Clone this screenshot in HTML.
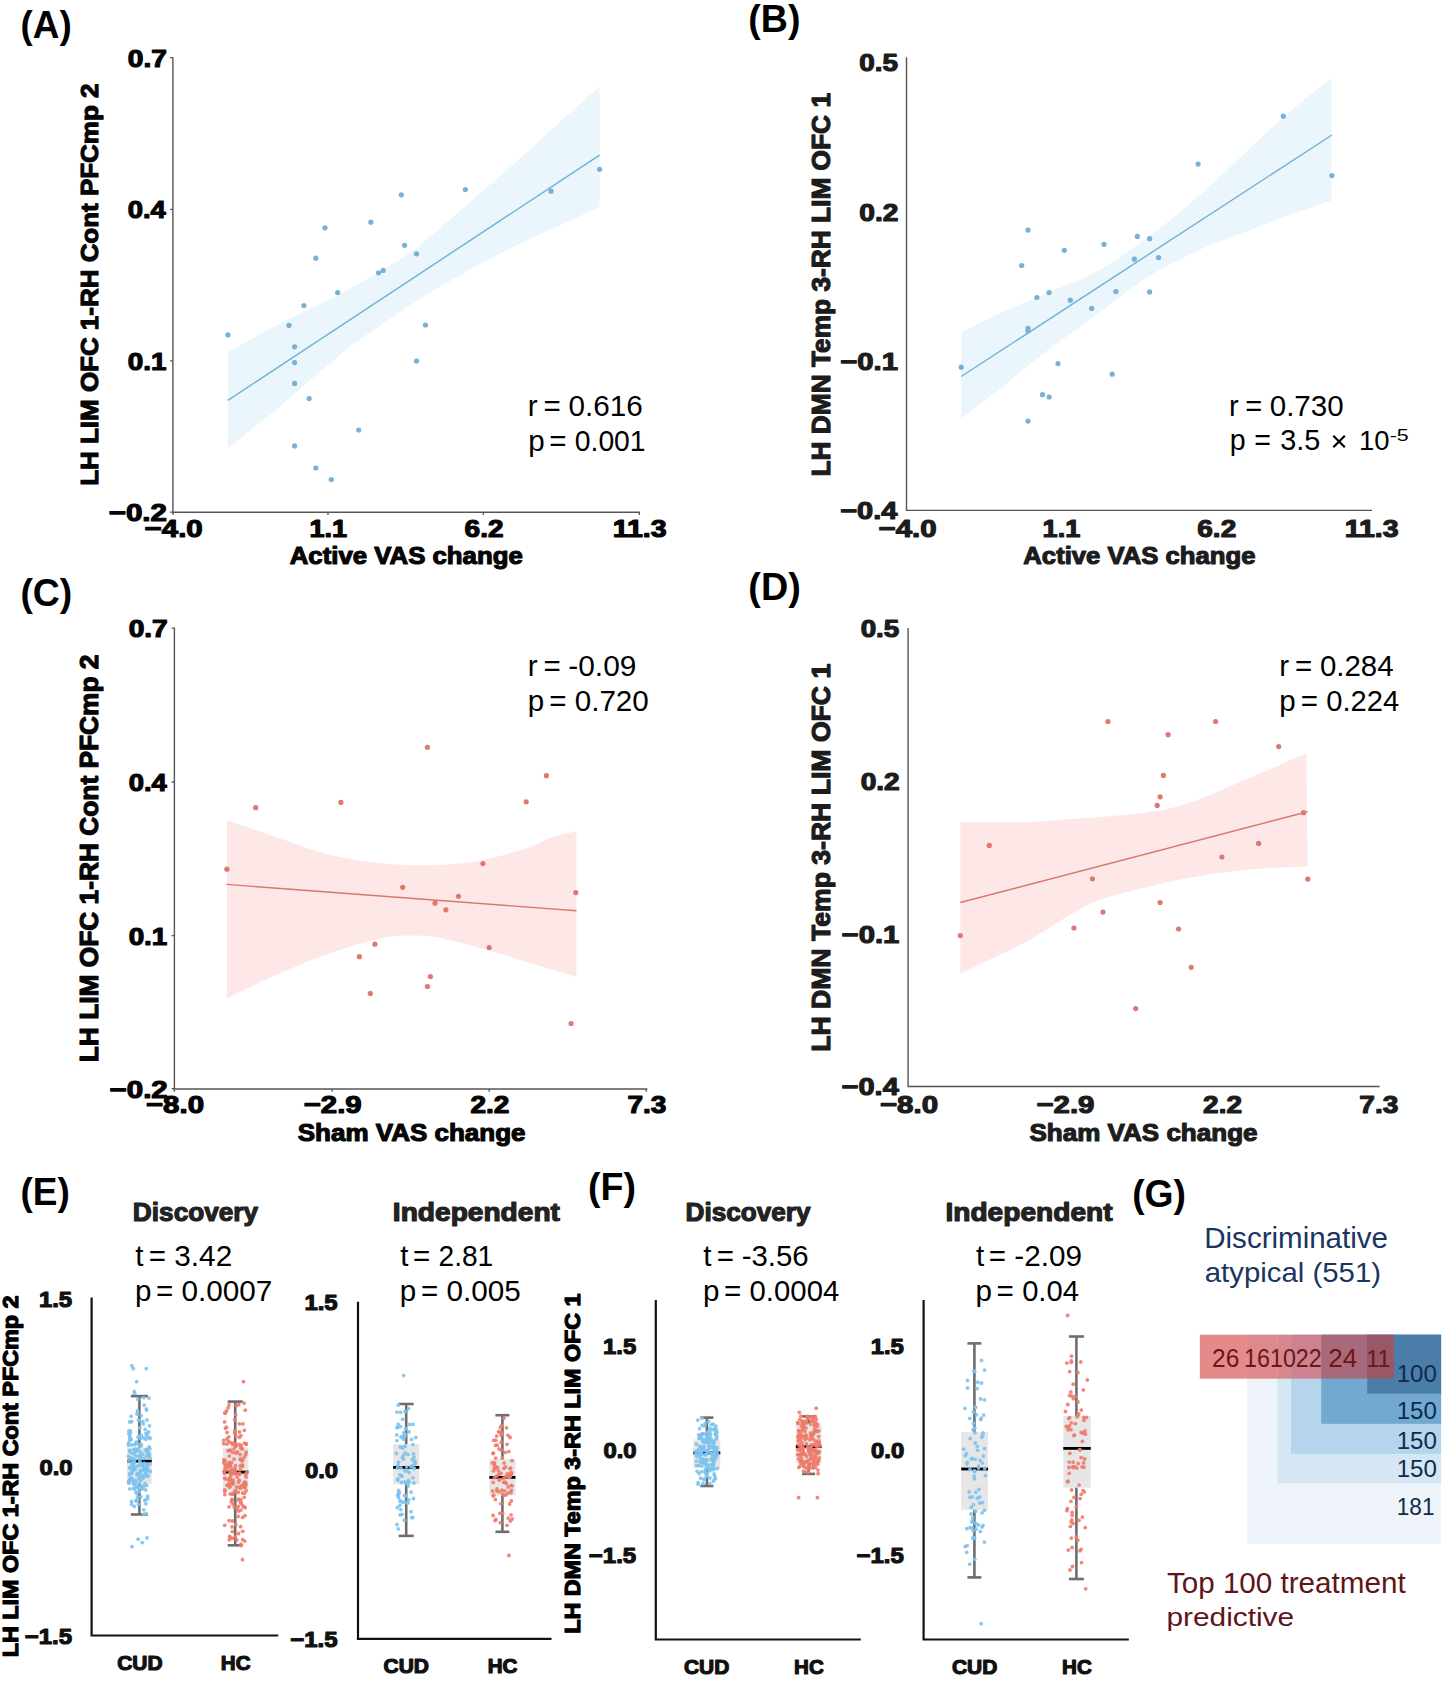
<!DOCTYPE html>
<html><head><meta charset="utf-8"><style>
html,body{margin:0;padding:0;background:#fff;}
svg{display:block;}
text{font-family:"Liberation Sans", sans-serif;}
</style></head><body>
<svg width="1453" height="1681" viewBox="0 0 1453 1681">
<rect width="1453" height="1681" fill="#fff"/>
<text transform="translate(20.46,38.10) scale(0.9536,1)" font-size="38.70" font-weight="bold" fill="#000">(A)</text>
<text transform="translate(748.32,32.40) scale(0.9696,1)" font-size="38.70" font-weight="bold" fill="#000">(B)</text>
<text transform="translate(20.43,606.00) scale(0.9656,1)" font-size="38.70" font-weight="bold" fill="#000">(C)</text>
<text transform="translate(748.31,599.90) scale(0.9942,1)" font-size="37.97" font-weight="bold" fill="#000">(D)</text>
<text transform="translate(20.45,1205.30) scale(0.9563,1)" font-size="38.70" font-weight="bold" fill="#000">(E)</text>
<text transform="translate(588.02,1199.60) scale(0.9594,1)" font-size="39.13" font-weight="bold" fill="#000">(F)</text>
<text transform="translate(1132.13,1207.30) scale(0.9645,1)" font-size="38.70" font-weight="bold" fill="#000">(G)</text>
<path d="M227.9,352.4 C236.4,347.7 259.6,334.2 279.1,324.0 C298.7,313.8 323.2,303.4 345.2,291.3 C367.2,279.2 391.5,265.6 411.3,251.6 C431.1,237.5 447.6,221.1 464.1,207.0 C480.6,192.9 494.4,181.2 510.4,167.0 C526.4,152.8 545.1,135.4 560.0,122.0 C574.9,108.6 593.0,92.3 599.6,86.4 L599.6,207.0 C593.0,210.0 574.9,218.3 560.0,225.2 C545.1,232.1 526.9,240.1 510.4,248.3 C493.9,256.6 477.3,265.3 460.8,274.7 C444.3,284.1 430.6,291.8 411.3,304.5 C392.0,317.2 367.2,333.6 345.2,350.7 C323.2,367.8 298.7,390.6 279.1,406.9 C259.6,423.1 236.4,441.3 227.9,448.2 Z" fill="#eaf5fc"/>
<line x1="227.9" y1="400.3" x2="599.6" y2="155.1" stroke="#6eb1d3" stroke-width="1.4"/>
<circle cx="227.9" cy="334.9" r="2.6" fill="#78b1d6"/>
<circle cx="289.0" cy="325.3" r="2.6" fill="#78b1d6"/>
<circle cx="294.6" cy="346.8" r="2.6" fill="#78b1d6"/>
<circle cx="294.6" cy="362.6" r="2.6" fill="#78b1d6"/>
<circle cx="294.6" cy="383.4" r="2.6" fill="#78b1d6"/>
<circle cx="303.9" cy="305.5" r="2.6" fill="#78b1d6"/>
<circle cx="309.2" cy="398.6" r="2.6" fill="#78b1d6"/>
<circle cx="294.6" cy="445.9" r="2.6" fill="#78b1d6"/>
<circle cx="315.8" cy="258.2" r="2.6" fill="#78b1d6"/>
<circle cx="325.0" cy="227.8" r="2.6" fill="#78b1d6"/>
<circle cx="337.6" cy="292.6" r="2.6" fill="#78b1d6"/>
<circle cx="315.8" cy="468.0" r="2.6" fill="#78b1d6"/>
<circle cx="331.3" cy="479.6" r="2.6" fill="#78b1d6"/>
<circle cx="358.7" cy="430.0" r="2.6" fill="#78b1d6"/>
<circle cx="370.9" cy="222.2" r="2.6" fill="#78b1d6"/>
<circle cx="378.5" cy="272.8" r="2.6" fill="#78b1d6"/>
<circle cx="383.2" cy="270.4" r="2.6" fill="#78b1d6"/>
<circle cx="401.3" cy="194.8" r="2.6" fill="#78b1d6"/>
<circle cx="404.6" cy="245.3" r="2.6" fill="#78b1d6"/>
<circle cx="416.5" cy="253.9" r="2.6" fill="#78b1d6"/>
<circle cx="425.5" cy="325.0" r="2.6" fill="#78b1d6"/>
<circle cx="416.5" cy="361.0" r="2.6" fill="#78b1d6"/>
<circle cx="465.4" cy="189.5" r="2.6" fill="#78b1d6"/>
<circle cx="551.0" cy="191.2" r="2.6" fill="#78b1d6"/>
<circle cx="599.6" cy="169.3" r="2.6" fill="#78b1d6"/>
<path d="M172.9,57.3 L172.9,512.3 L640.0,512.3" fill="none" stroke="#555" stroke-width="1.4"/>
<path d="M170.1,57.7 L172.9,57.7 M170.1,209.3 L172.9,209.3 M170.1,360.9 L172.9,360.9 M170.1,512.1 L172.9,512.1 M173.0,512.3 L173.0,515.1 M328.0,512.3 L328.0,515.1 M483.3,512.3 L483.3,515.1 M639.3,512.3 L639.3,515.1 " stroke="#555" stroke-width="1.3" fill="none"/>
<text transform="translate(127.75,66.72) scale(1.1686,1)" font-size="24.07" font-weight="bold" fill="#050505" stroke="#050505" stroke-width="1.15" stroke-linejoin="round">0.7</text>
<text transform="translate(127.78,218.33) scale(1.1382,1)" font-size="24.07" font-weight="bold" fill="#050505" stroke="#050505" stroke-width="1.15" stroke-linejoin="round">0.4</text>
<text transform="translate(127.76,369.93) scale(1.1554,1)" font-size="24.07" font-weight="bold" fill="#050505" stroke="#050505" stroke-width="1.15" stroke-linejoin="round">0.1</text>
<text transform="translate(108.70,521.12) scale(1.2244,1)" font-size="24.07" font-weight="bold" fill="#050505" stroke="#050505" stroke-width="1.15" stroke-linejoin="round">−0.2</text>
<text transform="translate(144.60,536.83) scale(1.2100,1)" font-size="24.36" font-weight="bold" fill="#050505" stroke="#050505" stroke-width="1.15" stroke-linejoin="round">−4.0</text>
<text transform="translate(309.40,536.83) scale(1.1121,1)" font-size="24.36" font-weight="bold" fill="#050505" stroke="#050505" stroke-width="1.15" stroke-linejoin="round">1.1</text>
<text transform="translate(464.59,536.83) scale(1.1505,1)" font-size="24.36" font-weight="bold" fill="#050505" stroke="#050505" stroke-width="1.15" stroke-linejoin="round">6.2</text>
<text transform="translate(612.72,536.83) scale(1.1699,1)" font-size="24.36" font-weight="bold" fill="#050505" stroke="#050505" stroke-width="1.15" stroke-linejoin="round">11.3</text>
<text transform="translate(289.73,563.62) scale(1.0622,1)" font-size="24.28" font-weight="bold" fill="#050505" stroke="#050505" stroke-width="1.15" stroke-linejoin="round">Active VAS change</text>
<text transform="translate(97.62,485.81) rotate(-90) scale(1.0565,1)" font-size="24.57" font-weight="bold" fill="#050505" stroke="#050505" stroke-width="1.15" stroke-linejoin="round">LH LIM OFC 1-RH Cont PFCmp 2</text>
<text transform="translate(527.68,415.80) scale(1.0000,1)" font-size="29.57" fill="#000">r</text>
<text transform="translate(543.52,415.80) scale(1.0000,1)" font-size="29.57" fill="#000">=</text>
<text transform="translate(568.41,415.80) scale(1.0033,1)" font-size="29.57" fill="#000">0.616</text>
<text transform="translate(528.18,450.50) scale(1.0000,1)" font-size="29.57" fill="#000">p</text>
<text transform="translate(549.32,450.50) scale(1.0000,1)" font-size="29.57" fill="#000">=</text>
<text transform="translate(574.77,450.50) scale(0.9578,1)" font-size="29.57" fill="#000">0.001</text>
<path d="M961.2,332.5 C967.3,329.5 983.3,321.0 997.6,314.4 C1011.9,307.8 1030.6,300.1 1047.1,292.9 C1063.6,285.7 1080.2,280.5 1096.7,271.4 C1113.2,262.3 1129.8,250.5 1146.3,238.4 C1162.8,226.3 1179.3,213.1 1195.8,198.8 C1212.3,184.5 1230.0,166.8 1245.4,152.5 C1260.8,138.2 1274.0,125.3 1288.3,112.9 C1302.6,100.5 1324.1,84.0 1331.3,78.2 L1331.3,200.4 C1324.1,202.9 1302.6,210.1 1288.3,215.3 C1274.0,220.5 1260.8,225.8 1245.4,231.8 C1230.0,237.9 1212.3,243.9 1195.8,251.6 C1179.3,259.3 1162.8,267.5 1146.3,278.0 C1129.8,288.5 1113.2,302.3 1096.7,314.4 C1080.2,326.5 1063.6,338.0 1047.1,350.7 C1030.6,363.4 1011.9,379.1 997.6,390.4 C983.3,401.7 967.3,413.7 961.2,418.4 Z" fill="#eaf5fc"/>
<line x1="961.2" y1="376.5" x2="1331.9" y2="135.0" stroke="#6eb1d3" stroke-width="1.4"/>
<circle cx="961.2" cy="367.2" r="2.6" fill="#78b1d6"/>
<circle cx="1028.0" cy="230.1" r="2.6" fill="#78b1d6"/>
<circle cx="1021.7" cy="265.5" r="2.6" fill="#78b1d6"/>
<circle cx="1028.0" cy="328.3" r="2.6" fill="#78b1d6"/>
<circle cx="1028.0" cy="330.9" r="2.6" fill="#78b1d6"/>
<circle cx="1036.9" cy="297.5" r="2.6" fill="#78b1d6"/>
<circle cx="1049.1" cy="292.6" r="2.6" fill="#78b1d6"/>
<circle cx="1064.3" cy="250.3" r="2.6" fill="#78b1d6"/>
<circle cx="1070.3" cy="300.2" r="2.6" fill="#78b1d6"/>
<circle cx="1091.7" cy="308.4" r="2.6" fill="#78b1d6"/>
<circle cx="1058.0" cy="363.6" r="2.6" fill="#78b1d6"/>
<circle cx="1042.5" cy="394.7" r="2.6" fill="#78b1d6"/>
<circle cx="1049.1" cy="397.0" r="2.6" fill="#78b1d6"/>
<circle cx="1028.0" cy="421.1" r="2.6" fill="#78b1d6"/>
<circle cx="1104.0" cy="244.3" r="2.6" fill="#78b1d6"/>
<circle cx="1112.2" cy="374.2" r="2.6" fill="#78b1d6"/>
<circle cx="1115.9" cy="291.6" r="2.6" fill="#78b1d6"/>
<circle cx="1134.4" cy="259.2" r="2.6" fill="#78b1d6"/>
<circle cx="1137.3" cy="236.4" r="2.6" fill="#78b1d6"/>
<circle cx="1149.6" cy="238.7" r="2.6" fill="#78b1d6"/>
<circle cx="1158.5" cy="257.6" r="2.6" fill="#78b1d6"/>
<circle cx="1149.6" cy="291.9" r="2.6" fill="#78b1d6"/>
<circle cx="1198.1" cy="164.1" r="2.6" fill="#78b1d6"/>
<circle cx="1283.3" cy="116.2" r="2.6" fill="#78b1d6"/>
<circle cx="1331.9" cy="175.6" r="2.6" fill="#78b1d6"/>
<path d="M906.5,57.3 L906.5,510.4 L1372.0,510.4" fill="none" stroke="#555" stroke-width="1.4"/>
<text transform="translate(859.26,71.12) scale(1.1554,1)" font-size="24.07" font-weight="bold" fill="#1c1c1c" stroke="#1c1c1c" stroke-width="1.15" stroke-linejoin="round">0.5</text>
<text transform="translate(859.25,220.83) scale(1.1686,1)" font-size="24.07" font-weight="bold" fill="#1c1c1c" stroke="#1c1c1c" stroke-width="1.15" stroke-linejoin="round">0.2</text>
<text transform="translate(840.21,369.93) scale(1.2148,1)" font-size="24.07" font-weight="bold" fill="#1c1c1c" stroke="#1c1c1c" stroke-width="1.15" stroke-linejoin="round">−0.1</text>
<text transform="translate(840.22,519.02) scale(1.2022,1)" font-size="24.07" font-weight="bold" fill="#1c1c1c" stroke="#1c1c1c" stroke-width="1.15" stroke-linejoin="round">−0.4</text>
<text transform="translate(878.50,536.62) scale(1.2100,1)" font-size="24.36" font-weight="bold" fill="#1c1c1c" stroke="#1c1c1c" stroke-width="1.15" stroke-linejoin="round">−4.0</text>
<text transform="translate(1042.60,536.62) scale(1.1121,1)" font-size="24.36" font-weight="bold" fill="#1c1c1c" stroke="#1c1c1c" stroke-width="1.15" stroke-linejoin="round">1.1</text>
<text transform="translate(1197.29,536.62) scale(1.1505,1)" font-size="24.36" font-weight="bold" fill="#1c1c1c" stroke="#1c1c1c" stroke-width="1.15" stroke-linejoin="round">6.2</text>
<text transform="translate(1344.72,536.62) scale(1.1699,1)" font-size="24.36" font-weight="bold" fill="#1c1c1c" stroke="#1c1c1c" stroke-width="1.15" stroke-linejoin="round">11.3</text>
<text transform="translate(1023.33,563.62) scale(1.0581,1)" font-size="24.28" font-weight="bold" fill="#1c1c1c" stroke="#1c1c1c" stroke-width="1.15" stroke-linejoin="round">Active VAS change</text>
<text transform="translate(829.62,476.53) rotate(-90) scale(1.0576,1)" font-size="24.86" font-weight="bold" fill="#1c1c1c" stroke="#1c1c1c" stroke-width="1.15" stroke-linejoin="round">LH DMN Temp 3-RH LIM OFC 1</text>
<text transform="translate(1229.12,415.60) scale(1.0000,1)" font-size="29.00" fill="#000">r</text>
<text transform="translate(1245.35,415.60) scale(1.0000,1)" font-size="29.00" fill="#000">=</text>
<text transform="translate(1269.72,415.60) scale(1.0181,1)" font-size="29.00" fill="#000">0.730</text>
<text transform="translate(1229.84,450.40) scale(1.0000,1)" font-size="28.57" fill="#000">p</text>
<text transform="translate(1254.37,450.40) scale(1.0000,1)" font-size="28.57" fill="#000">=</text>
<text transform="translate(1280.15,450.40) scale(1.0099,1)" font-size="28.57" fill="#000">3.5</text>
<text transform="translate(1359.04,450.40) scale(0.9625,1)" font-size="28.57" fill="#000">10</text>
<text transform="translate(1389.74,440.70) scale(1.2569,1)" font-size="17.00" fill="#000">-5</text>
<path d="M226.9,820.0 C235.6,823.0 262.1,832.3 279.1,838.1 C296.1,843.9 312.2,850.5 328.7,854.6 C345.2,858.7 361.7,861.1 378.2,862.9 C394.7,864.7 411.3,865.5 427.8,865.2 C444.3,864.9 460.8,864.2 477.3,861.3 C493.8,858.4 514.2,852.1 526.9,848.0 C539.6,843.9 545.0,839.2 553.3,836.5 C561.5,833.8 572.5,832.3 576.4,831.5 L576.4,976.9 C570.9,975.2 557.2,971.1 543.4,967.0 C529.6,962.9 510.3,956.8 493.8,952.1 C477.3,947.4 458.1,941.6 444.3,938.9 C430.6,936.1 422.3,935.6 411.3,935.6 C400.3,935.6 392.0,935.9 378.2,938.9 C364.4,941.9 345.2,947.9 328.7,953.7 C312.2,959.5 296.1,966.2 279.1,973.6 C262.1,981.0 235.6,994.3 226.9,998.4 Z" fill="#fde8e7"/>
<line x1="226.3" y1="884.4" x2="576.4" y2="910.8" stroke="#d9776b" stroke-width="1.4"/>
<circle cx="226.9" cy="869.2" r="2.6" fill="#dc7a70"/>
<circle cx="255.7" cy="807.7" r="2.6" fill="#dc7a70"/>
<circle cx="340.9" cy="802.4" r="2.6" fill="#dc7a70"/>
<circle cx="427.4" cy="747.3" r="2.6" fill="#dc7a70"/>
<circle cx="402.7" cy="887.3" r="2.6" fill="#dc7a70"/>
<circle cx="435.0" cy="903.2" r="2.6" fill="#dc7a70"/>
<circle cx="445.9" cy="909.8" r="2.6" fill="#dc7a70"/>
<circle cx="458.5" cy="896.3" r="2.6" fill="#dc7a70"/>
<circle cx="482.9" cy="863.6" r="2.6" fill="#dc7a70"/>
<circle cx="526.2" cy="801.8" r="2.6" fill="#dc7a70"/>
<circle cx="546.4" cy="775.7" r="2.6" fill="#dc7a70"/>
<circle cx="575.8" cy="892.6" r="2.6" fill="#dc7a70"/>
<circle cx="374.9" cy="944.2" r="2.6" fill="#dc7a70"/>
<circle cx="359.4" cy="956.7" r="2.6" fill="#dc7a70"/>
<circle cx="489.2" cy="947.5" r="2.6" fill="#dc7a70"/>
<circle cx="430.4" cy="976.5" r="2.6" fill="#dc7a70"/>
<circle cx="427.4" cy="986.5" r="2.6" fill="#dc7a70"/>
<circle cx="370.3" cy="993.4" r="2.6" fill="#dc7a70"/>
<circle cx="571.1" cy="1023.5" r="2.6" fill="#dc7a70"/>
<path d="M174.4,627.8 L174.4,1089.0 L647.4,1089.0" fill="none" stroke="#555" stroke-width="1.4"/>
<path d="M171.6,628.1 L174.4,628.1 M171.6,782.0 L174.4,782.0 M171.6,935.6 L174.4,935.6 M171.6,1088.7 L174.4,1088.7 M174.3,1089.0 L174.3,1091.8 M332.1,1089.0 L332.1,1091.8 M489.2,1089.0 L489.2,1091.8 M646.3,1089.0 L646.3,1091.8 " stroke="#555" stroke-width="1.3" fill="none"/>
<text transform="translate(128.65,637.12) scale(1.1686,1)" font-size="24.07" font-weight="bold" fill="#050505" stroke="#050505" stroke-width="1.15" stroke-linejoin="round">0.7</text>
<text transform="translate(128.68,791.02) scale(1.1382,1)" font-size="24.07" font-weight="bold" fill="#050505" stroke="#050505" stroke-width="1.15" stroke-linejoin="round">0.4</text>
<text transform="translate(128.66,944.62) scale(1.1554,1)" font-size="24.07" font-weight="bold" fill="#050505" stroke="#050505" stroke-width="1.15" stroke-linejoin="round">0.1</text>
<text transform="translate(109.60,1097.72) scale(1.2244,1)" font-size="24.07" font-weight="bold" fill="#050505" stroke="#050505" stroke-width="1.15" stroke-linejoin="round">−0.2</text>
<text transform="translate(145.90,1113.22) scale(1.2100,1)" font-size="24.36" font-weight="bold" fill="#050505" stroke="#050505" stroke-width="1.15" stroke-linejoin="round">−8.0</text>
<text transform="translate(303.70,1113.22) scale(1.2068,1)" font-size="24.36" font-weight="bold" fill="#050505" stroke="#050505" stroke-width="1.15" stroke-linejoin="round">−2.9</text>
<text transform="translate(470.49,1113.22) scale(1.1505,1)" font-size="24.36" font-weight="bold" fill="#050505" stroke="#050505" stroke-width="1.15" stroke-linejoin="round">2.2</text>
<text transform="translate(627.45,1113.22) scale(1.1505,1)" font-size="24.36" font-weight="bold" fill="#050505" stroke="#050505" stroke-width="1.15" stroke-linejoin="round">7.3</text>
<text transform="translate(297.69,1141.33) scale(1.0714,1)" font-size="24.28" font-weight="bold" fill="#050505" stroke="#050505" stroke-width="1.15" stroke-linejoin="round">Sham VAS change</text>
<text transform="translate(98.22,1062.24) rotate(-90) scale(1.0291,1)" font-size="25.58" font-weight="bold" fill="#050505" stroke="#050505" stroke-width="1.15" stroke-linejoin="round">LH LIM OFC 1-RH Cont PFCmp 2</text>
<text transform="translate(527.68,676.30) scale(1.0000,1)" font-size="29.57" fill="#000">r</text>
<text transform="translate(543.52,676.30) scale(1.0000,1)" font-size="29.57" fill="#000">=</text>
<text transform="translate(568.25,676.30) scale(1.0114,1)" font-size="29.57" fill="#000">-0.09</text>
<text transform="translate(527.68,711.00) scale(1.0000,1)" font-size="29.57" fill="#000">p</text>
<text transform="translate(549.32,711.00) scale(1.0000,1)" font-size="29.57" fill="#000">=</text>
<text transform="translate(574.72,711.00) scale(1.0012,1)" font-size="29.57" fill="#000">0.720</text>
<path d="M960.3,821.9 C971.3,821.9 1002.7,822.8 1026.4,821.9 C1050.2,821.0 1082.2,818.4 1102.8,816.8 C1123.4,815.1 1137.3,813.8 1150.0,812.0 C1162.7,810.2 1170.0,808.5 1179.2,806.0 C1188.4,803.5 1196.5,800.3 1205.0,797.0 C1213.5,793.7 1219.6,790.7 1230.1,786.2 C1240.6,781.7 1255.3,775.5 1268.0,770.0 C1280.7,764.5 1300.1,755.9 1306.5,753.1 L1307.5,866.4 C1298.8,866.8 1272.8,867.5 1255.6,869.0 C1238.4,870.5 1221.6,872.5 1204.6,875.3 C1187.6,878.0 1170.7,881.5 1153.7,885.5 C1136.7,889.5 1116.8,894.1 1102.8,899.0 C1088.8,903.9 1082.7,907.9 1070.0,915.0 C1057.3,922.1 1044.7,931.9 1026.4,941.6 C1008.1,951.3 971.3,968.1 960.3,973.4 Z" fill="#fde8e7"/>
<line x1="960.3" y1="902.5" x2="1307.5" y2="811.7" stroke="#d9776b" stroke-width="1.4"/>
<circle cx="960.3" cy="935.6" r="2.6" fill="#dc7a70"/>
<circle cx="989.3" cy="845.4" r="2.6" fill="#dc7a70"/>
<circle cx="1107.9" cy="721.5" r="2.6" fill="#dc7a70"/>
<circle cx="1168.1" cy="734.7" r="2.6" fill="#dc7a70"/>
<circle cx="1215.6" cy="721.5" r="2.6" fill="#dc7a70"/>
<circle cx="1278.7" cy="746.6" r="2.6" fill="#dc7a70"/>
<circle cx="1163.4" cy="775.4" r="2.6" fill="#dc7a70"/>
<circle cx="1160.1" cy="796.8" r="2.6" fill="#dc7a70"/>
<circle cx="1157.2" cy="805.4" r="2.6" fill="#dc7a70"/>
<circle cx="1303.5" cy="812.7" r="2.6" fill="#dc7a70"/>
<circle cx="1258.6" cy="843.4" r="2.6" fill="#dc7a70"/>
<circle cx="1221.9" cy="857.0" r="2.6" fill="#dc7a70"/>
<circle cx="1307.8" cy="879.1" r="2.6" fill="#dc7a70"/>
<circle cx="1092.4" cy="878.8" r="2.6" fill="#dc7a70"/>
<circle cx="1160.1" cy="902.5" r="2.6" fill="#dc7a70"/>
<circle cx="1103.0" cy="912.1" r="2.6" fill="#dc7a70"/>
<circle cx="1073.9" cy="928.0" r="2.6" fill="#dc7a70"/>
<circle cx="1178.6" cy="929.0" r="2.6" fill="#dc7a70"/>
<circle cx="1191.2" cy="967.3" r="2.6" fill="#dc7a70"/>
<circle cx="1135.7" cy="1008.6" r="2.6" fill="#dc7a70"/>
<path d="M908.1,628.0 L908.1,1086.5 L1379.6,1086.5" fill="none" stroke="#555" stroke-width="1.4"/>
<text transform="translate(860.66,637.12) scale(1.1554,1)" font-size="24.07" font-weight="bold" fill="#1c1c1c" stroke="#1c1c1c" stroke-width="1.15" stroke-linejoin="round">0.5</text>
<text transform="translate(860.65,790.12) scale(1.1686,1)" font-size="24.07" font-weight="bold" fill="#1c1c1c" stroke="#1c1c1c" stroke-width="1.15" stroke-linejoin="round">0.2</text>
<text transform="translate(841.61,942.82) scale(1.2148,1)" font-size="24.07" font-weight="bold" fill="#1c1c1c" stroke="#1c1c1c" stroke-width="1.15" stroke-linejoin="round">−0.1</text>
<text transform="translate(841.62,1095.33) scale(1.2022,1)" font-size="24.07" font-weight="bold" fill="#1c1c1c" stroke="#1c1c1c" stroke-width="1.15" stroke-linejoin="round">−0.4</text>
<text transform="translate(879.90,1113.03) scale(1.2100,1)" font-size="24.36" font-weight="bold" fill="#1c1c1c" stroke="#1c1c1c" stroke-width="1.15" stroke-linejoin="round">−8.0</text>
<text transform="translate(1036.40,1113.03) scale(1.2068,1)" font-size="24.36" font-weight="bold" fill="#1c1c1c" stroke="#1c1c1c" stroke-width="1.15" stroke-linejoin="round">−2.9</text>
<text transform="translate(1203.09,1113.03) scale(1.1505,1)" font-size="24.36" font-weight="bold" fill="#1c1c1c" stroke="#1c1c1c" stroke-width="1.15" stroke-linejoin="round">2.2</text>
<text transform="translate(1359.35,1113.03) scale(1.1505,1)" font-size="24.36" font-weight="bold" fill="#1c1c1c" stroke="#1c1c1c" stroke-width="1.15" stroke-linejoin="round">7.3</text>
<text transform="translate(1029.49,1141.33) scale(1.0728,1)" font-size="24.28" font-weight="bold" fill="#1c1c1c" stroke="#1c1c1c" stroke-width="1.15" stroke-linejoin="round">Sham VAS change</text>
<text transform="translate(830.12,1051.85) rotate(-90) scale(1.0703,1)" font-size="24.86" font-weight="bold" fill="#1c1c1c" stroke="#1c1c1c" stroke-width="1.15" stroke-linejoin="round">LH DMN Temp 3-RH LIM OFC 1</text>
<text transform="translate(1279.18,676.30) scale(1.0000,1)" font-size="29.57" fill="#000">r</text>
<text transform="translate(1295.02,676.30) scale(1.0000,1)" font-size="29.57" fill="#000">=</text>
<text transform="translate(1319.92,676.30) scale(0.9964,1)" font-size="29.57" fill="#000">0.284</text>
<text transform="translate(1279.18,711.00) scale(1.0000,1)" font-size="29.57" fill="#000">p</text>
<text transform="translate(1300.82,711.00) scale(1.0000,1)" font-size="29.57" fill="#000">=</text>
<text transform="translate(1326.23,711.00) scale(0.9853,1)" font-size="29.57" fill="#000">0.224</text>
<path d="M1333.3,435.7 L1344.8,447.2 M1344.8,435.7 L1333.3,447.2" stroke="#000" stroke-width="2.2"/>
<path d="M91.6,1297.6 L91.6,1635.5 L278.3,1635.5" fill="none" stroke="#111" stroke-width="2.2"/>
<rect x="127.1" y="1447.4" width="24.6" height="36.3" fill="#e6e6e6"/>
<line x1="139.4" y1="1396.1" x2="139.4" y2="1447.4" stroke="#6e6e6e" stroke-width="2.6"/>
<line x1="139.4" y1="1483.7" x2="139.4" y2="1514.5" stroke="#6e6e6e" stroke-width="2.6"/>
<line x1="130.9" y1="1396.1" x2="147.9" y2="1396.1" stroke="#6e6e6e" stroke-width="2.6"/>
<line x1="130.9" y1="1514.5" x2="147.9" y2="1514.5" stroke="#6e6e6e" stroke-width="2.6"/>
<line x1="127.1" y1="1461.1" x2="151.7" y2="1461.1" stroke="#000" stroke-width="2.8"/>
<g fill="#7cc3ee" fill-opacity="0.9"><circle cx="142.7" cy="1454.2" r="1.9"/><circle cx="130.0" cy="1474.9" r="1.9"/><circle cx="129.7" cy="1436.1" r="1.9"/><circle cx="139.6" cy="1455.4" r="1.9"/><circle cx="129.9" cy="1489.0" r="1.9"/><circle cx="130.4" cy="1467.8" r="1.9"/><circle cx="131.1" cy="1416.3" r="1.9"/><circle cx="133.3" cy="1484.1" r="1.9"/><circle cx="141.1" cy="1415.6" r="1.9"/><circle cx="137.1" cy="1414.2" r="1.9"/><circle cx="147.3" cy="1469.3" r="1.9"/><circle cx="134.8" cy="1459.9" r="1.9"/><circle cx="135.2" cy="1469.4" r="1.9"/><circle cx="146.4" cy="1471.7" r="1.9"/><circle cx="142.5" cy="1476.1" r="1.9"/><circle cx="136.6" cy="1493.3" r="1.9"/><circle cx="129.7" cy="1451.8" r="1.9"/><circle cx="132.9" cy="1458.2" r="1.9"/><circle cx="135.3" cy="1449.1" r="1.9"/><circle cx="141.3" cy="1435.4" r="1.9"/><circle cx="145.9" cy="1439.4" r="1.9"/><circle cx="143.8" cy="1467.7" r="1.9"/><circle cx="140.0" cy="1462.4" r="1.9"/><circle cx="147.7" cy="1496.2" r="1.9"/><circle cx="150.0" cy="1458.2" r="1.9"/><circle cx="131.0" cy="1439.1" r="1.9"/><circle cx="131.7" cy="1421.7" r="1.9"/><circle cx="139.2" cy="1483.4" r="1.9"/><circle cx="145.2" cy="1499.8" r="1.9"/><circle cx="141.0" cy="1470.8" r="1.9"/><circle cx="143.7" cy="1477.6" r="1.9"/><circle cx="141.5" cy="1444.7" r="1.9"/><circle cx="146.9" cy="1435.1" r="1.9"/><circle cx="149.2" cy="1446.8" r="1.9"/><circle cx="129.7" cy="1421.9" r="1.9"/><circle cx="143.8" cy="1467.5" r="1.9"/><circle cx="146.5" cy="1410.0" r="1.9"/><circle cx="134.7" cy="1393.4" r="1.9"/><circle cx="128.9" cy="1431.0" r="1.9"/><circle cx="138.6" cy="1487.4" r="1.9"/><circle cx="129.7" cy="1467.7" r="1.9"/><circle cx="145.3" cy="1472.8" r="1.9"/><circle cx="137.0" cy="1475.0" r="1.9"/><circle cx="147.6" cy="1475.8" r="1.9"/><circle cx="140.5" cy="1486.8" r="1.9"/><circle cx="147.8" cy="1475.3" r="1.9"/><circle cx="134.5" cy="1483.7" r="1.9"/><circle cx="137.5" cy="1412.4" r="1.9"/><circle cx="149.5" cy="1425.8" r="1.9"/><circle cx="131.7" cy="1504.4" r="1.9"/><circle cx="133.5" cy="1469.8" r="1.9"/><circle cx="139.1" cy="1478.6" r="1.9"/><circle cx="128.5" cy="1443.3" r="1.9"/><circle cx="137.6" cy="1449.9" r="1.9"/><circle cx="149.4" cy="1437.4" r="1.9"/><circle cx="143.6" cy="1486.5" r="1.9"/><circle cx="143.3" cy="1424.0" r="1.9"/><circle cx="129.6" cy="1457.5" r="1.9"/><circle cx="147.6" cy="1498.9" r="1.9"/><circle cx="146.0" cy="1433.5" r="1.9"/><circle cx="130.7" cy="1439.9" r="1.9"/><circle cx="142.4" cy="1478.1" r="1.9"/><circle cx="133.0" cy="1470.4" r="1.9"/><circle cx="132.0" cy="1464.9" r="1.9"/><circle cx="128.4" cy="1456.4" r="1.9"/><circle cx="131.7" cy="1468.6" r="1.9"/><circle cx="129.0" cy="1481.6" r="1.9"/><circle cx="147.6" cy="1476.3" r="1.9"/><circle cx="133.9" cy="1449.6" r="1.9"/><circle cx="136.0" cy="1451.1" r="1.9"/><circle cx="147.1" cy="1452.1" r="1.9"/><circle cx="150.2" cy="1471.5" r="1.9"/><circle cx="130.3" cy="1430.9" r="1.9"/><circle cx="130.6" cy="1467.7" r="1.9"/><circle cx="146.6" cy="1449.5" r="1.9"/><circle cx="132.0" cy="1478.7" r="1.9"/><circle cx="140.0" cy="1470.6" r="1.9"/><circle cx="129.0" cy="1481.5" r="1.9"/><circle cx="140.0" cy="1487.9" r="1.9"/><circle cx="143.7" cy="1514.3" r="1.9"/><circle cx="134.1" cy="1453.9" r="1.9"/><circle cx="145.4" cy="1450.2" r="1.9"/><circle cx="140.1" cy="1473.2" r="1.9"/><circle cx="133.3" cy="1465.5" r="1.9"/><circle cx="146.3" cy="1437.5" r="1.9"/><circle cx="146.1" cy="1513.5" r="1.9"/><circle cx="146.4" cy="1456.1" r="1.9"/><circle cx="139.8" cy="1459.9" r="1.9"/><circle cx="136.2" cy="1441.9" r="1.9"/><circle cx="134.5" cy="1467.4" r="1.9"/><circle cx="134.1" cy="1462.3" r="1.9"/><circle cx="138.2" cy="1437.3" r="1.9"/><circle cx="149.0" cy="1398.1" r="1.9"/><circle cx="136.4" cy="1456.1" r="1.9"/><circle cx="132.7" cy="1464.7" r="1.9"/><circle cx="132.9" cy="1480.1" r="1.9"/><circle cx="146.9" cy="1420.0" r="1.9"/><circle cx="138.9" cy="1420.5" r="1.9"/><circle cx="130.3" cy="1433.5" r="1.9"/><circle cx="142.9" cy="1421.6" r="1.9"/><circle cx="144.9" cy="1500.7" r="1.9"/><circle cx="138.9" cy="1435.9" r="1.9"/><circle cx="135.7" cy="1481.7" r="1.9"/><circle cx="146.0" cy="1503.8" r="1.9"/><circle cx="137.2" cy="1487.7" r="1.9"/><circle cx="149.2" cy="1456.3" r="1.9"/><circle cx="131.2" cy="1458.5" r="1.9"/><circle cx="131.7" cy="1444.9" r="1.9"/><circle cx="131.6" cy="1501.4" r="1.9"/><circle cx="146.6" cy="1433.7" r="1.9"/><circle cx="136.1" cy="1500.1" r="1.9"/><circle cx="140.5" cy="1456.2" r="1.9"/><circle cx="149.8" cy="1464.2" r="1.9"/><circle cx="142.7" cy="1464.4" r="1.9"/><circle cx="137.9" cy="1399.3" r="1.9"/><circle cx="147.6" cy="1450.7" r="1.9"/><circle cx="133.9" cy="1469.6" r="1.9"/><circle cx="134.8" cy="1444.7" r="1.9"/><circle cx="134.1" cy="1463.2" r="1.9"/><circle cx="137.6" cy="1496.8" r="1.9"/><circle cx="136.2" cy="1501.2" r="1.9"/><circle cx="138.5" cy="1504.4" r="1.9"/><circle cx="137.7" cy="1410.7" r="1.9"/><circle cx="148.6" cy="1432.0" r="1.9"/><circle cx="139.9" cy="1428.0" r="1.9"/><circle cx="128.8" cy="1460.8" r="1.9"/><circle cx="128.5" cy="1445.2" r="1.9"/><circle cx="146.0" cy="1467.4" r="1.9"/><circle cx="144.4" cy="1475.4" r="1.9"/><circle cx="140.6" cy="1488.0" r="1.9"/><circle cx="140.6" cy="1446.2" r="1.9"/><circle cx="145.7" cy="1490.0" r="1.9"/><circle cx="133.9" cy="1488.2" r="1.9"/><circle cx="134.5" cy="1482.4" r="1.9"/><circle cx="140.8" cy="1465.6" r="1.9"/><circle cx="145.1" cy="1429.4" r="1.9"/><circle cx="141.9" cy="1485.9" r="1.9"/><circle cx="139.5" cy="1445.9" r="1.9"/><circle cx="138.4" cy="1419.9" r="1.9"/><circle cx="140.1" cy="1457.9" r="1.9"/><circle cx="143.8" cy="1397.6" r="1.9"/><circle cx="147.7" cy="1469.9" r="1.9"/><circle cx="140.7" cy="1480.6" r="1.9"/><circle cx="149.2" cy="1453.7" r="1.9"/><circle cx="131.1" cy="1468.9" r="1.9"/><circle cx="138.1" cy="1448.8" r="1.9"/><circle cx="130.0" cy="1479.0" r="1.9"/><circle cx="143.1" cy="1469.9" r="1.9"/><circle cx="131.8" cy="1473.2" r="1.9"/><circle cx="144.2" cy="1405.1" r="1.9"/><circle cx="147.8" cy="1453.1" r="1.9"/><circle cx="149.7" cy="1448.5" r="1.9"/><circle cx="137.2" cy="1473.7" r="1.9"/><circle cx="146.7" cy="1467.6" r="1.9"/><circle cx="139.7" cy="1476.2" r="1.9"/><circle cx="135.9" cy="1485.4" r="1.9"/><circle cx="144.3" cy="1469.0" r="1.9"/><circle cx="128.8" cy="1483.3" r="1.9"/><circle cx="128.8" cy="1433.8" r="1.9"/><circle cx="135.7" cy="1451.4" r="1.9"/><circle cx="129.8" cy="1438.2" r="1.9"/><circle cx="150.1" cy="1438.5" r="1.9"/><circle cx="130.7" cy="1478.2" r="1.9"/><circle cx="134.2" cy="1391.4" r="1.9"/><circle cx="134.3" cy="1506.4" r="1.9"/><circle cx="131.3" cy="1472.6" r="1.9"/><circle cx="146.4" cy="1408.8" r="1.9"/><circle cx="134.1" cy="1488.9" r="1.9"/><circle cx="141.0" cy="1496.7" r="1.9"/><circle cx="143.8" cy="1509.8" r="1.9"/><circle cx="143.5" cy="1468.9" r="1.9"/><circle cx="137.8" cy="1466.0" r="1.9"/><circle cx="142.4" cy="1489.0" r="1.9"/><circle cx="147.2" cy="1464.7" r="1.9"/><circle cx="129.9" cy="1450.4" r="1.9"/><circle cx="135.9" cy="1480.3" r="1.9"/><circle cx="140.6" cy="1438.6" r="1.9"/><circle cx="131.2" cy="1480.1" r="1.9"/><circle cx="140.0" cy="1451.7" r="1.9"/><circle cx="132.0" cy="1462.0" r="1.9"/><circle cx="129.5" cy="1474.0" r="1.9"/><circle cx="135.1" cy="1468.0" r="1.9"/><circle cx="145.1" cy="1483.3" r="1.9"/><circle cx="132.3" cy="1453.2" r="1.9"/><circle cx="136.0" cy="1491.8" r="1.9"/><circle cx="128.7" cy="1481.4" r="1.9"/><circle cx="144.5" cy="1463.4" r="1.9"/><circle cx="138.8" cy="1444.6" r="1.9"/><circle cx="149.0" cy="1455.6" r="1.9"/><circle cx="137.9" cy="1500.1" r="1.9"/><circle cx="139.3" cy="1491.9" r="1.9"/><circle cx="139.5" cy="1474.7" r="1.9"/><circle cx="143.5" cy="1437.9" r="1.9"/><circle cx="146.7" cy="1485.6" r="1.9"/><circle cx="143.9" cy="1458.4" r="1.9"/><circle cx="136.0" cy="1443.1" r="1.9"/><circle cx="129.6" cy="1440.4" r="1.9"/><circle cx="144.7" cy="1468.2" r="1.9"/><circle cx="134.0" cy="1468.6" r="1.9"/><circle cx="146.9" cy="1467.0" r="1.9"/><circle cx="131.9" cy="1366.0" r="1.9"/><circle cx="133.3" cy="1368.7" r="1.9"/><circle cx="146.3" cy="1368.7" r="1.9"/><circle cx="136.7" cy="1381.7" r="1.9"/><circle cx="138.1" cy="1539.2" r="1.9"/><circle cx="142.2" cy="1542.6" r="1.9"/><circle cx="147.0" cy="1537.8" r="1.9"/><circle cx="131.9" cy="1546.7" r="1.9"/></g>
<rect x="223.1" y="1447.4" width="25.3" height="44.4" fill="#e6e6e6"/>
<line x1="235.2" y1="1401.6" x2="235.2" y2="1447.4" stroke="#6e6e6e" stroke-width="2.6"/>
<line x1="235.2" y1="1491.8" x2="235.2" y2="1545.3" stroke="#6e6e6e" stroke-width="2.6"/>
<line x1="227.7" y1="1401.6" x2="242.7" y2="1401.6" stroke="#6e6e6e" stroke-width="2.6"/>
<line x1="227.7" y1="1545.3" x2="242.7" y2="1545.3" stroke="#6e6e6e" stroke-width="2.6"/>
<line x1="223.1" y1="1472.1" x2="248.4" y2="1472.1" stroke="#000" stroke-width="2.8"/>
<g fill="#ef7a69" fill-opacity="0.9"><circle cx="243.7" cy="1486.9" r="1.9"/><circle cx="229.3" cy="1456.1" r="1.9"/><circle cx="230.4" cy="1442.7" r="1.9"/><circle cx="234.0" cy="1448.8" r="1.9"/><circle cx="229.8" cy="1478.2" r="1.9"/><circle cx="236.3" cy="1445.9" r="1.9"/><circle cx="230.8" cy="1475.8" r="1.9"/><circle cx="232.5" cy="1470.9" r="1.9"/><circle cx="234.6" cy="1473.6" r="1.9"/><circle cx="235.3" cy="1444.6" r="1.9"/><circle cx="223.8" cy="1471.6" r="1.9"/><circle cx="232.9" cy="1470.5" r="1.9"/><circle cx="224.7" cy="1489.9" r="1.9"/><circle cx="229.1" cy="1506.8" r="1.9"/><circle cx="237.2" cy="1477.0" r="1.9"/><circle cx="238.8" cy="1404.7" r="1.9"/><circle cx="240.2" cy="1459.6" r="1.9"/><circle cx="231.2" cy="1501.7" r="1.9"/><circle cx="246.3" cy="1444.0" r="1.9"/><circle cx="238.5" cy="1511.1" r="1.9"/><circle cx="224.7" cy="1525.3" r="1.9"/><circle cx="238.1" cy="1516.4" r="1.9"/><circle cx="226.9" cy="1464.5" r="1.9"/><circle cx="242.9" cy="1423.9" r="1.9"/><circle cx="242.2" cy="1464.9" r="1.9"/><circle cx="244.2" cy="1497.3" r="1.9"/><circle cx="239.4" cy="1423.8" r="1.9"/><circle cx="224.4" cy="1461.7" r="1.9"/><circle cx="226.8" cy="1444.2" r="1.9"/><circle cx="242.9" cy="1459.7" r="1.9"/><circle cx="236.5" cy="1487.0" r="1.9"/><circle cx="239.4" cy="1432.0" r="1.9"/><circle cx="235.0" cy="1430.6" r="1.9"/><circle cx="240.9" cy="1545.6" r="1.9"/><circle cx="235.3" cy="1473.6" r="1.9"/><circle cx="225.2" cy="1413.2" r="1.9"/><circle cx="240.6" cy="1458.9" r="1.9"/><circle cx="229.8" cy="1471.9" r="1.9"/><circle cx="240.5" cy="1488.3" r="1.9"/><circle cx="246.1" cy="1490.8" r="1.9"/><circle cx="235.1" cy="1536.9" r="1.9"/><circle cx="239.4" cy="1437.4" r="1.9"/><circle cx="241.3" cy="1503.7" r="1.9"/><circle cx="225.5" cy="1428.3" r="1.9"/><circle cx="227.1" cy="1432.5" r="1.9"/><circle cx="230.7" cy="1470.4" r="1.9"/><circle cx="236.8" cy="1539.9" r="1.9"/><circle cx="229.9" cy="1486.6" r="1.9"/><circle cx="239.2" cy="1473.2" r="1.9"/><circle cx="230.4" cy="1450.2" r="1.9"/><circle cx="235.6" cy="1414.4" r="1.9"/><circle cx="226.4" cy="1427.2" r="1.9"/><circle cx="244.3" cy="1482.2" r="1.9"/><circle cx="245.2" cy="1507.7" r="1.9"/><circle cx="242.6" cy="1517.4" r="1.9"/><circle cx="246.0" cy="1477.1" r="1.9"/><circle cx="228.5" cy="1441.2" r="1.9"/><circle cx="245.4" cy="1482.3" r="1.9"/><circle cx="227.0" cy="1485.4" r="1.9"/><circle cx="235.8" cy="1524.7" r="1.9"/><circle cx="242.6" cy="1493.1" r="1.9"/><circle cx="235.4" cy="1465.7" r="1.9"/><circle cx="229.0" cy="1520.7" r="1.9"/><circle cx="244.3" cy="1430.3" r="1.9"/><circle cx="223.8" cy="1462.9" r="1.9"/><circle cx="235.0" cy="1472.9" r="1.9"/><circle cx="226.9" cy="1438.9" r="1.9"/><circle cx="231.6" cy="1482.7" r="1.9"/><circle cx="223.7" cy="1440.3" r="1.9"/><circle cx="241.0" cy="1544.1" r="1.9"/><circle cx="245.0" cy="1483.1" r="1.9"/><circle cx="240.1" cy="1454.5" r="1.9"/><circle cx="232.3" cy="1499.8" r="1.9"/><circle cx="232.7" cy="1452.4" r="1.9"/><circle cx="232.0" cy="1526.9" r="1.9"/><circle cx="233.5" cy="1471.7" r="1.9"/><circle cx="226.0" cy="1470.1" r="1.9"/><circle cx="242.9" cy="1484.9" r="1.9"/><circle cx="229.4" cy="1450.7" r="1.9"/><circle cx="228.1" cy="1467.2" r="1.9"/><circle cx="232.3" cy="1521.0" r="1.9"/><circle cx="242.4" cy="1448.9" r="1.9"/><circle cx="245.3" cy="1410.2" r="1.9"/><circle cx="236.3" cy="1405.5" r="1.9"/><circle cx="240.5" cy="1469.6" r="1.9"/><circle cx="234.1" cy="1459.2" r="1.9"/><circle cx="230.3" cy="1473.1" r="1.9"/><circle cx="224.8" cy="1413.0" r="1.9"/><circle cx="234.6" cy="1491.3" r="1.9"/><circle cx="231.6" cy="1462.6" r="1.9"/><circle cx="246.2" cy="1452.2" r="1.9"/><circle cx="229.7" cy="1536.5" r="1.9"/><circle cx="236.5" cy="1452.7" r="1.9"/><circle cx="232.8" cy="1443.2" r="1.9"/><circle cx="228.5" cy="1484.2" r="1.9"/><circle cx="244.5" cy="1493.3" r="1.9"/><circle cx="244.5" cy="1443.1" r="1.9"/><circle cx="246.6" cy="1472.6" r="1.9"/><circle cx="228.1" cy="1450.7" r="1.9"/><circle cx="225.8" cy="1479.1" r="1.9"/><circle cx="229.2" cy="1462.3" r="1.9"/><circle cx="229.6" cy="1487.2" r="1.9"/><circle cx="240.9" cy="1435.7" r="1.9"/><circle cx="235.8" cy="1435.8" r="1.9"/><circle cx="232.4" cy="1494.2" r="1.9"/><circle cx="230.1" cy="1464.4" r="1.9"/><circle cx="246.0" cy="1484.6" r="1.9"/><circle cx="238.2" cy="1506.3" r="1.9"/><circle cx="243.5" cy="1506.7" r="1.9"/><circle cx="229.4" cy="1479.0" r="1.9"/><circle cx="232.9" cy="1504.0" r="1.9"/><circle cx="243.2" cy="1506.1" r="1.9"/><circle cx="224.4" cy="1478.1" r="1.9"/><circle cx="240.0" cy="1465.9" r="1.9"/><circle cx="237.2" cy="1509.0" r="1.9"/><circle cx="223.7" cy="1443.7" r="1.9"/><circle cx="242.7" cy="1531.3" r="1.9"/><circle cx="229.4" cy="1539.8" r="1.9"/><circle cx="235.7" cy="1490.5" r="1.9"/><circle cx="239.4" cy="1487.2" r="1.9"/><circle cx="238.6" cy="1533.5" r="1.9"/><circle cx="241.3" cy="1448.5" r="1.9"/><circle cx="224.6" cy="1421.9" r="1.9"/><circle cx="241.7" cy="1485.9" r="1.9"/><circle cx="238.5" cy="1482.2" r="1.9"/><circle cx="229.5" cy="1465.0" r="1.9"/><circle cx="238.3" cy="1492.4" r="1.9"/><circle cx="225.3" cy="1465.7" r="1.9"/><circle cx="235.8" cy="1453.1" r="1.9"/><circle cx="228.8" cy="1436.8" r="1.9"/><circle cx="237.5" cy="1451.8" r="1.9"/><circle cx="234.3" cy="1506.9" r="1.9"/><circle cx="245.8" cy="1474.4" r="1.9"/><circle cx="234.6" cy="1419.6" r="1.9"/><circle cx="229.1" cy="1404.8" r="1.9"/><circle cx="239.9" cy="1474.0" r="1.9"/><circle cx="235.2" cy="1469.1" r="1.9"/><circle cx="239.2" cy="1480.2" r="1.9"/><circle cx="239.0" cy="1444.3" r="1.9"/><circle cx="245.0" cy="1487.4" r="1.9"/><circle cx="231.5" cy="1473.7" r="1.9"/><circle cx="233.4" cy="1482.8" r="1.9"/><circle cx="242.0" cy="1460.9" r="1.9"/><circle cx="240.7" cy="1447.2" r="1.9"/><circle cx="246.0" cy="1444.2" r="1.9"/><circle cx="230.9" cy="1471.2" r="1.9"/><circle cx="228.8" cy="1484.8" r="1.9"/><circle cx="241.2" cy="1445.2" r="1.9"/><circle cx="235.1" cy="1443.9" r="1.9"/><circle cx="233.3" cy="1483.3" r="1.9"/><circle cx="239.0" cy="1499.1" r="1.9"/><circle cx="232.7" cy="1494.0" r="1.9"/><circle cx="228.6" cy="1464.8" r="1.9"/><circle cx="224.9" cy="1494.5" r="1.9"/><circle cx="225.1" cy="1468.4" r="1.9"/><circle cx="244.0" cy="1403.2" r="1.9"/><circle cx="240.6" cy="1526.7" r="1.9"/><circle cx="231.3" cy="1470.6" r="1.9"/><circle cx="240.9" cy="1510.1" r="1.9"/><circle cx="232.4" cy="1531.6" r="1.9"/><circle cx="232.3" cy="1484.2" r="1.9"/><circle cx="223.8" cy="1459.8" r="1.9"/><circle cx="230.1" cy="1493.9" r="1.9"/><circle cx="226.5" cy="1411.0" r="1.9"/><circle cx="231.9" cy="1499.4" r="1.9"/><circle cx="242.6" cy="1465.9" r="1.9"/><circle cx="224.8" cy="1491.2" r="1.9"/><circle cx="234.6" cy="1432.7" r="1.9"/><circle cx="228.1" cy="1407.8" r="1.9"/><circle cx="232.1" cy="1538.3" r="1.9"/><circle cx="233.1" cy="1480.2" r="1.9"/><circle cx="242.4" cy="1466.0" r="1.9"/><circle cx="224.5" cy="1473.3" r="1.9"/><circle cx="225.1" cy="1460.3" r="1.9"/><circle cx="240.9" cy="1499.9" r="1.9"/><circle cx="244.4" cy="1456.8" r="1.9"/><circle cx="245.7" cy="1454.7" r="1.9"/><circle cx="237.9" cy="1499.9" r="1.9"/><circle cx="231.0" cy="1467.1" r="1.9"/><circle cx="230.0" cy="1537.2" r="1.9"/><circle cx="244.8" cy="1541.1" r="1.9"/><circle cx="238.3" cy="1473.7" r="1.9"/><circle cx="229.1" cy="1480.6" r="1.9"/><circle cx="234.6" cy="1468.9" r="1.9"/><circle cx="232.6" cy="1444.7" r="1.9"/><circle cx="235.0" cy="1471.8" r="1.9"/><circle cx="245.0" cy="1515.7" r="1.9"/><circle cx="240.7" cy="1502.4" r="1.9"/><circle cx="242.6" cy="1539.7" r="1.9"/><circle cx="231.2" cy="1480.1" r="1.9"/><circle cx="243.5" cy="1381.7" r="1.9"/><circle cx="242.5" cy="1559.7" r="1.9"/></g>
<path d="M358.0,1301.8 L358.0,1638.8 L551.5,1638.8" fill="none" stroke="#111" stroke-width="2.2"/>
<rect x="393.1" y="1444.3" width="26.2" height="40.0" fill="#e6e6e6"/>
<line x1="406.2" y1="1404.0" x2="406.2" y2="1444.3" stroke="#6e6e6e" stroke-width="2.6"/>
<line x1="406.2" y1="1484.3" x2="406.2" y2="1535.9" stroke="#6e6e6e" stroke-width="2.6"/>
<line x1="398.7" y1="1404.0" x2="413.7" y2="1404.0" stroke="#6e6e6e" stroke-width="2.6"/>
<line x1="398.7" y1="1535.9" x2="413.7" y2="1535.9" stroke="#6e6e6e" stroke-width="2.6"/>
<line x1="393.1" y1="1467.4" x2="419.3" y2="1467.4" stroke="#000" stroke-width="2.8"/>
<g fill="#7cc3ee" fill-opacity="0.9"><circle cx="402.6" cy="1419.3" r="1.9"/><circle cx="397.8" cy="1427.3" r="1.9"/><circle cx="400.1" cy="1514.8" r="1.9"/><circle cx="397.5" cy="1467.9" r="1.9"/><circle cx="396.9" cy="1440.6" r="1.9"/><circle cx="415.8" cy="1437.5" r="1.9"/><circle cx="413.9" cy="1457.2" r="1.9"/><circle cx="397.9" cy="1495.2" r="1.9"/><circle cx="398.1" cy="1465.3" r="1.9"/><circle cx="405.1" cy="1411.5" r="1.9"/><circle cx="400.9" cy="1467.9" r="1.9"/><circle cx="409.7" cy="1424.5" r="1.9"/><circle cx="411.2" cy="1492.1" r="1.9"/><circle cx="398.6" cy="1497.5" r="1.9"/><circle cx="413.0" cy="1424.3" r="1.9"/><circle cx="403.7" cy="1454.9" r="1.9"/><circle cx="411.0" cy="1511.7" r="1.9"/><circle cx="401.1" cy="1475.8" r="1.9"/><circle cx="399.3" cy="1492.9" r="1.9"/><circle cx="402.7" cy="1502.3" r="1.9"/><circle cx="404.1" cy="1436.3" r="1.9"/><circle cx="400.8" cy="1509.7" r="1.9"/><circle cx="412.4" cy="1465.4" r="1.9"/><circle cx="398.2" cy="1405.1" r="1.9"/><circle cx="413.0" cy="1477.8" r="1.9"/><circle cx="402.1" cy="1476.2" r="1.9"/><circle cx="398.6" cy="1462.2" r="1.9"/><circle cx="407.9" cy="1502.8" r="1.9"/><circle cx="413.5" cy="1498.5" r="1.9"/><circle cx="405.2" cy="1452.8" r="1.9"/><circle cx="415.1" cy="1463.5" r="1.9"/><circle cx="398.3" cy="1528.9" r="1.9"/><circle cx="400.6" cy="1426.7" r="1.9"/><circle cx="403.6" cy="1439.3" r="1.9"/><circle cx="401.3" cy="1482.5" r="1.9"/><circle cx="408.2" cy="1486.0" r="1.9"/><circle cx="396.4" cy="1453.5" r="1.9"/><circle cx="402.7" cy="1447.9" r="1.9"/><circle cx="402.4" cy="1457.5" r="1.9"/><circle cx="400.3" cy="1446.9" r="1.9"/><circle cx="397.5" cy="1480.0" r="1.9"/><circle cx="398.2" cy="1424.4" r="1.9"/><circle cx="409.0" cy="1431.8" r="1.9"/><circle cx="398.0" cy="1494.9" r="1.9"/><circle cx="404.4" cy="1495.7" r="1.9"/><circle cx="401.9" cy="1514.4" r="1.9"/><circle cx="402.4" cy="1436.3" r="1.9"/><circle cx="404.5" cy="1436.9" r="1.9"/><circle cx="413.5" cy="1453.8" r="1.9"/><circle cx="400.1" cy="1501.2" r="1.9"/><circle cx="410.8" cy="1466.7" r="1.9"/><circle cx="414.2" cy="1468.5" r="1.9"/><circle cx="404.7" cy="1471.1" r="1.9"/><circle cx="413.9" cy="1482.9" r="1.9"/><circle cx="405.4" cy="1434.6" r="1.9"/><circle cx="407.2" cy="1470.6" r="1.9"/><circle cx="409.0" cy="1472.6" r="1.9"/><circle cx="408.6" cy="1480.4" r="1.9"/><circle cx="403.6" cy="1459.2" r="1.9"/><circle cx="401.9" cy="1447.4" r="1.9"/><circle cx="406.6" cy="1466.8" r="1.9"/><circle cx="406.0" cy="1482.6" r="1.9"/><circle cx="412.3" cy="1459.7" r="1.9"/><circle cx="398.7" cy="1490.5" r="1.9"/><circle cx="415.1" cy="1462.5" r="1.9"/><circle cx="397.3" cy="1507.7" r="1.9"/><circle cx="414.7" cy="1461.2" r="1.9"/><circle cx="408.6" cy="1408.7" r="1.9"/><circle cx="412.7" cy="1517.3" r="1.9"/><circle cx="400.6" cy="1500.8" r="1.9"/><circle cx="404.3" cy="1520.2" r="1.9"/><circle cx="399.9" cy="1505.4" r="1.9"/><circle cx="400.6" cy="1412.4" r="1.9"/><circle cx="403.9" cy="1432.7" r="1.9"/><circle cx="398.7" cy="1492.7" r="1.9"/><circle cx="414.1" cy="1468.5" r="1.9"/><circle cx="397.0" cy="1524.5" r="1.9"/><circle cx="397.0" cy="1412.1" r="1.9"/><circle cx="413.0" cy="1444.6" r="1.9"/><circle cx="407.2" cy="1502.9" r="1.9"/><circle cx="408.7" cy="1499.8" r="1.9"/><circle cx="407.9" cy="1454.6" r="1.9"/><circle cx="404.7" cy="1502.2" r="1.9"/><circle cx="405.0" cy="1446.4" r="1.9"/><circle cx="396.7" cy="1434.9" r="1.9"/><circle cx="400.9" cy="1437.1" r="1.9"/><circle cx="411.5" cy="1439.4" r="1.9"/><circle cx="399.8" cy="1474.8" r="1.9"/><circle cx="405.7" cy="1428.7" r="1.9"/><circle cx="404.8" cy="1482.0" r="1.9"/><circle cx="398.0" cy="1479.0" r="1.9"/><circle cx="397.0" cy="1427.7" r="1.9"/><circle cx="408.9" cy="1482.5" r="1.9"/><circle cx="411.8" cy="1517.7" r="1.9"/><circle cx="406.4" cy="1496.0" r="1.9"/><circle cx="403.7" cy="1375.6" r="1.9"/></g>
<rect x="489.3" y="1459.3" width="26.2" height="36.2" fill="#e6e6e6"/>
<line x1="502.4" y1="1415.2" x2="502.4" y2="1459.3" stroke="#6e6e6e" stroke-width="2.6"/>
<line x1="502.4" y1="1495.5" x2="502.4" y2="1531.8" stroke="#6e6e6e" stroke-width="2.6"/>
<line x1="495.4" y1="1415.2" x2="509.4" y2="1415.2" stroke="#6e6e6e" stroke-width="2.6"/>
<line x1="495.4" y1="1531.8" x2="509.4" y2="1531.8" stroke="#6e6e6e" stroke-width="2.6"/>
<line x1="489.3" y1="1477.4" x2="515.5" y2="1477.4" stroke="#000" stroke-width="2.8"/>
<g fill="#ef7a69" fill-opacity="0.9"><circle cx="500.0" cy="1513.3" r="1.9"/><circle cx="511.4" cy="1490.1" r="1.9"/><circle cx="512.3" cy="1519.0" r="1.9"/><circle cx="507.0" cy="1525.3" r="1.9"/><circle cx="512.0" cy="1485.8" r="1.9"/><circle cx="502.2" cy="1458.0" r="1.9"/><circle cx="495.7" cy="1458.1" r="1.9"/><circle cx="493.7" cy="1495.2" r="1.9"/><circle cx="495.6" cy="1445.4" r="1.9"/><circle cx="510.3" cy="1521.0" r="1.9"/><circle cx="495.3" cy="1468.1" r="1.9"/><circle cx="496.6" cy="1476.4" r="1.9"/><circle cx="498.8" cy="1474.3" r="1.9"/><circle cx="493.1" cy="1515.5" r="1.9"/><circle cx="511.1" cy="1485.3" r="1.9"/><circle cx="506.0" cy="1494.8" r="1.9"/><circle cx="508.1" cy="1492.9" r="1.9"/><circle cx="494.7" cy="1465.4" r="1.9"/><circle cx="499.6" cy="1432.5" r="1.9"/><circle cx="509.9" cy="1468.6" r="1.9"/><circle cx="510.1" cy="1437.5" r="1.9"/><circle cx="494.5" cy="1463.0" r="1.9"/><circle cx="500.3" cy="1522.7" r="1.9"/><circle cx="508.4" cy="1475.4" r="1.9"/><circle cx="503.9" cy="1468.3" r="1.9"/><circle cx="501.2" cy="1442.4" r="1.9"/><circle cx="495.9" cy="1519.5" r="1.9"/><circle cx="508.8" cy="1477.0" r="1.9"/><circle cx="497.5" cy="1467.3" r="1.9"/><circle cx="504.1" cy="1418.0" r="1.9"/><circle cx="492.4" cy="1463.0" r="1.9"/><circle cx="493.1" cy="1453.5" r="1.9"/><circle cx="501.0" cy="1503.7" r="1.9"/><circle cx="502.7" cy="1513.3" r="1.9"/><circle cx="496.9" cy="1491.0" r="1.9"/><circle cx="505.5" cy="1467.0" r="1.9"/><circle cx="499.5" cy="1479.7" r="1.9"/><circle cx="494.5" cy="1477.7" r="1.9"/><circle cx="504.1" cy="1463.1" r="1.9"/><circle cx="504.2" cy="1495.3" r="1.9"/><circle cx="501.9" cy="1490.2" r="1.9"/><circle cx="495.1" cy="1520.6" r="1.9"/><circle cx="495.4" cy="1499.6" r="1.9"/><circle cx="494.3" cy="1468.1" r="1.9"/><circle cx="508.0" cy="1435.3" r="1.9"/><circle cx="500.4" cy="1427.7" r="1.9"/><circle cx="505.3" cy="1477.0" r="1.9"/><circle cx="503.6" cy="1482.3" r="1.9"/><circle cx="501.3" cy="1450.1" r="1.9"/><circle cx="511.1" cy="1514.8" r="1.9"/><circle cx="510.5" cy="1474.9" r="1.9"/><circle cx="493.3" cy="1453.2" r="1.9"/><circle cx="497.2" cy="1445.2" r="1.9"/><circle cx="493.6" cy="1470.9" r="1.9"/><circle cx="503.4" cy="1478.3" r="1.9"/><circle cx="511.2" cy="1472.4" r="1.9"/><circle cx="504.6" cy="1490.8" r="1.9"/><circle cx="502.5" cy="1494.1" r="1.9"/><circle cx="495.9" cy="1440.3" r="1.9"/><circle cx="498.6" cy="1431.6" r="1.9"/><circle cx="510.2" cy="1474.2" r="1.9"/><circle cx="508.1" cy="1487.0" r="1.9"/><circle cx="509.3" cy="1476.6" r="1.9"/><circle cx="507.3" cy="1473.9" r="1.9"/><circle cx="501.4" cy="1425.7" r="1.9"/><circle cx="496.9" cy="1488.9" r="1.9"/><circle cx="493.2" cy="1495.9" r="1.9"/><circle cx="499.1" cy="1491.8" r="1.9"/><circle cx="509.3" cy="1477.3" r="1.9"/><circle cx="506.6" cy="1427.8" r="1.9"/><circle cx="501.1" cy="1473.3" r="1.9"/><circle cx="508.2" cy="1518.1" r="1.9"/><circle cx="505.2" cy="1452.4" r="1.9"/><circle cx="511.7" cy="1473.7" r="1.9"/><circle cx="492.7" cy="1491.0" r="1.9"/><circle cx="507.3" cy="1475.9" r="1.9"/><circle cx="511.3" cy="1501.0" r="1.9"/><circle cx="510.0" cy="1476.7" r="1.9"/><circle cx="499.0" cy="1448.8" r="1.9"/><circle cx="505.0" cy="1482.2" r="1.9"/><circle cx="512.0" cy="1460.7" r="1.9"/><circle cx="501.8" cy="1432.8" r="1.9"/><circle cx="509.6" cy="1504.0" r="1.9"/><circle cx="501.1" cy="1435.3" r="1.9"/><circle cx="498.6" cy="1470.8" r="1.9"/><circle cx="496.6" cy="1436.1" r="1.9"/><circle cx="510.6" cy="1468.1" r="1.9"/><circle cx="495.3" cy="1468.4" r="1.9"/><circle cx="511.0" cy="1492.5" r="1.9"/><circle cx="499.3" cy="1480.0" r="1.9"/><circle cx="493.2" cy="1482.3" r="1.9"/><circle cx="506.3" cy="1483.4" r="1.9"/><circle cx="507.1" cy="1444.3" r="1.9"/><circle cx="493.7" cy="1440.3" r="1.9"/><circle cx="508.8" cy="1451.6" r="1.9"/><circle cx="508.9" cy="1555.5" r="1.9"/></g>
<path d="M655.8,1299.9 L655.8,1639.5 L860.8,1639.5" fill="none" stroke="#111" stroke-width="2.2"/>
<rect x="693.4" y="1439.4" width="26.9" height="28.0" fill="#e6e6e6"/>
<line x1="706.9" y1="1417.6" x2="706.9" y2="1439.4" stroke="#6e6e6e" stroke-width="2.6"/>
<line x1="706.9" y1="1467.4" x2="706.9" y2="1486.0" stroke="#6e6e6e" stroke-width="2.6"/>
<line x1="700.4" y1="1417.6" x2="713.4" y2="1417.6" stroke="#6e6e6e" stroke-width="2.6"/>
<line x1="700.4" y1="1486.0" x2="713.4" y2="1486.0" stroke="#6e6e6e" stroke-width="2.6"/>
<line x1="693.4" y1="1452.9" x2="720.3" y2="1452.9" stroke="#000" stroke-width="2.8"/>
<g fill="#7cc3ee" fill-opacity="0.9"><circle cx="713.9" cy="1442.8" r="1.9"/><circle cx="715.0" cy="1458.5" r="1.9"/><circle cx="716.0" cy="1448.3" r="1.9"/><circle cx="700.4" cy="1461.7" r="1.9"/><circle cx="698.4" cy="1449.7" r="1.9"/><circle cx="713.8" cy="1461.1" r="1.9"/><circle cx="709.8" cy="1428.4" r="1.9"/><circle cx="702.2" cy="1425.4" r="1.9"/><circle cx="712.6" cy="1460.1" r="1.9"/><circle cx="700.4" cy="1458.2" r="1.9"/><circle cx="696.4" cy="1444.2" r="1.9"/><circle cx="701.5" cy="1471.7" r="1.9"/><circle cx="704.0" cy="1446.5" r="1.9"/><circle cx="703.0" cy="1483.5" r="1.9"/><circle cx="714.6" cy="1475.6" r="1.9"/><circle cx="709.5" cy="1447.7" r="1.9"/><circle cx="705.5" cy="1472.9" r="1.9"/><circle cx="712.9" cy="1456.8" r="1.9"/><circle cx="707.7" cy="1435.3" r="1.9"/><circle cx="700.7" cy="1478.2" r="1.9"/><circle cx="713.9" cy="1458.5" r="1.9"/><circle cx="699.6" cy="1446.4" r="1.9"/><circle cx="712.7" cy="1466.1" r="1.9"/><circle cx="717.4" cy="1453.0" r="1.9"/><circle cx="706.7" cy="1475.8" r="1.9"/><circle cx="713.4" cy="1453.5" r="1.9"/><circle cx="703.5" cy="1462.1" r="1.9"/><circle cx="714.2" cy="1474.0" r="1.9"/><circle cx="702.1" cy="1449.8" r="1.9"/><circle cx="706.9" cy="1459.6" r="1.9"/><circle cx="698.3" cy="1482.7" r="1.9"/><circle cx="713.2" cy="1447.6" r="1.9"/><circle cx="711.2" cy="1446.8" r="1.9"/><circle cx="703.7" cy="1459.3" r="1.9"/><circle cx="704.7" cy="1425.9" r="1.9"/><circle cx="697.8" cy="1420.2" r="1.9"/><circle cx="715.4" cy="1478.4" r="1.9"/><circle cx="701.7" cy="1466.1" r="1.9"/><circle cx="715.7" cy="1455.0" r="1.9"/><circle cx="715.3" cy="1433.7" r="1.9"/><circle cx="701.0" cy="1452.8" r="1.9"/><circle cx="712.5" cy="1429.4" r="1.9"/><circle cx="712.5" cy="1458.8" r="1.9"/><circle cx="703.1" cy="1441.8" r="1.9"/><circle cx="699.3" cy="1438.4" r="1.9"/><circle cx="712.2" cy="1468.9" r="1.9"/><circle cx="699.6" cy="1428.7" r="1.9"/><circle cx="708.6" cy="1421.4" r="1.9"/><circle cx="698.7" cy="1465.6" r="1.9"/><circle cx="701.1" cy="1462.6" r="1.9"/><circle cx="711.4" cy="1458.9" r="1.9"/><circle cx="714.5" cy="1468.5" r="1.9"/><circle cx="701.3" cy="1459.4" r="1.9"/><circle cx="703.1" cy="1462.4" r="1.9"/><circle cx="703.1" cy="1441.3" r="1.9"/><circle cx="700.1" cy="1451.3" r="1.9"/><circle cx="698.1" cy="1484.3" r="1.9"/><circle cx="717.1" cy="1448.0" r="1.9"/><circle cx="717.5" cy="1468.5" r="1.9"/><circle cx="713.4" cy="1464.5" r="1.9"/><circle cx="700.2" cy="1450.7" r="1.9"/><circle cx="709.9" cy="1432.0" r="1.9"/><circle cx="704.4" cy="1463.4" r="1.9"/><circle cx="696.6" cy="1461.2" r="1.9"/><circle cx="711.2" cy="1424.8" r="1.9"/><circle cx="706.9" cy="1473.6" r="1.9"/><circle cx="699.0" cy="1438.1" r="1.9"/><circle cx="709.2" cy="1436.7" r="1.9"/><circle cx="715.9" cy="1426.1" r="1.9"/><circle cx="705.4" cy="1471.2" r="1.9"/><circle cx="705.2" cy="1423.6" r="1.9"/><circle cx="700.9" cy="1438.2" r="1.9"/><circle cx="712.9" cy="1445.9" r="1.9"/><circle cx="710.9" cy="1441.0" r="1.9"/><circle cx="702.8" cy="1439.2" r="1.9"/><circle cx="709.7" cy="1436.1" r="1.9"/><circle cx="713.1" cy="1469.7" r="1.9"/><circle cx="711.6" cy="1464.8" r="1.9"/><circle cx="705.2" cy="1442.6" r="1.9"/><circle cx="705.9" cy="1442.0" r="1.9"/><circle cx="710.8" cy="1438.3" r="1.9"/><circle cx="716.4" cy="1438.9" r="1.9"/><circle cx="713.0" cy="1464.6" r="1.9"/><circle cx="704.5" cy="1479.1" r="1.9"/><circle cx="696.7" cy="1456.3" r="1.9"/><circle cx="713.1" cy="1441.7" r="1.9"/><circle cx="716.6" cy="1449.8" r="1.9"/><circle cx="708.5" cy="1443.9" r="1.9"/><circle cx="707.8" cy="1451.8" r="1.9"/><circle cx="710.0" cy="1448.1" r="1.9"/><circle cx="714.1" cy="1429.8" r="1.9"/><circle cx="716.8" cy="1432.8" r="1.9"/><circle cx="700.5" cy="1450.1" r="1.9"/><circle cx="712.7" cy="1445.0" r="1.9"/><circle cx="698.6" cy="1434.9" r="1.9"/><circle cx="697.1" cy="1471.3" r="1.9"/><circle cx="701.9" cy="1451.1" r="1.9"/><circle cx="705.1" cy="1450.3" r="1.9"/><circle cx="705.2" cy="1454.8" r="1.9"/><circle cx="701.7" cy="1447.0" r="1.9"/><circle cx="700.8" cy="1435.5" r="1.9"/><circle cx="707.5" cy="1450.4" r="1.9"/><circle cx="704.5" cy="1459.8" r="1.9"/><circle cx="713.0" cy="1455.4" r="1.9"/><circle cx="713.7" cy="1463.0" r="1.9"/><circle cx="708.3" cy="1438.2" r="1.9"/><circle cx="700.9" cy="1436.3" r="1.9"/><circle cx="710.0" cy="1470.8" r="1.9"/><circle cx="713.9" cy="1448.8" r="1.9"/><circle cx="702.4" cy="1461.8" r="1.9"/><circle cx="708.0" cy="1432.6" r="1.9"/><circle cx="703.7" cy="1479.3" r="1.9"/><circle cx="714.6" cy="1479.3" r="1.9"/><circle cx="701.5" cy="1450.8" r="1.9"/><circle cx="705.3" cy="1471.9" r="1.9"/><circle cx="711.8" cy="1453.5" r="1.9"/><circle cx="702.1" cy="1454.2" r="1.9"/><circle cx="706.5" cy="1453.4" r="1.9"/><circle cx="705.3" cy="1469.6" r="1.9"/><circle cx="703.9" cy="1434.1" r="1.9"/><circle cx="716.3" cy="1430.9" r="1.9"/><circle cx="714.1" cy="1457.0" r="1.9"/><circle cx="715.8" cy="1447.5" r="1.9"/><circle cx="714.2" cy="1455.2" r="1.9"/><circle cx="709.8" cy="1442.3" r="1.9"/><circle cx="716.8" cy="1455.9" r="1.9"/><circle cx="710.3" cy="1453.2" r="1.9"/><circle cx="699.0" cy="1452.9" r="1.9"/><circle cx="701.0" cy="1462.0" r="1.9"/><circle cx="699.3" cy="1455.9" r="1.9"/><circle cx="715.8" cy="1435.0" r="1.9"/><circle cx="715.5" cy="1456.0" r="1.9"/><circle cx="709.3" cy="1441.4" r="1.9"/><circle cx="715.6" cy="1458.6" r="1.9"/><circle cx="713.2" cy="1424.2" r="1.9"/><circle cx="711.1" cy="1459.8" r="1.9"/><circle cx="707.6" cy="1441.8" r="1.9"/><circle cx="715.3" cy="1451.8" r="1.9"/><circle cx="708.1" cy="1431.8" r="1.9"/><circle cx="699.0" cy="1451.6" r="1.9"/><circle cx="706.7" cy="1467.2" r="1.9"/><circle cx="699.1" cy="1473.5" r="1.9"/><circle cx="706.7" cy="1460.8" r="1.9"/><circle cx="714.9" cy="1428.4" r="1.9"/><circle cx="696.0" cy="1453.2" r="1.9"/><circle cx="708.3" cy="1464.9" r="1.9"/><circle cx="710.5" cy="1434.3" r="1.9"/><circle cx="705.1" cy="1463.2" r="1.9"/><circle cx="717.0" cy="1436.8" r="1.9"/><circle cx="709.9" cy="1477.9" r="1.9"/><circle cx="696.5" cy="1465.7" r="1.9"/><circle cx="716.4" cy="1429.9" r="1.9"/><circle cx="703.2" cy="1433.9" r="1.9"/><circle cx="706.6" cy="1476.3" r="1.9"/><circle cx="715.6" cy="1450.2" r="1.9"/><circle cx="709.7" cy="1483.6" r="1.9"/><circle cx="703.3" cy="1459.5" r="1.9"/><circle cx="706.3" cy="1465.0" r="1.9"/><circle cx="707.5" cy="1438.5" r="1.9"/><circle cx="705.5" cy="1454.6" r="1.9"/><circle cx="705.2" cy="1439.5" r="1.9"/><circle cx="702.3" cy="1418.1" r="1.9"/><circle cx="714.1" cy="1440.6" r="1.9"/><circle cx="701.9" cy="1433.7" r="1.9"/><circle cx="707.0" cy="1466.2" r="1.9"/><circle cx="713.3" cy="1481.3" r="1.9"/><circle cx="703.2" cy="1448.4" r="1.9"/><circle cx="708.8" cy="1446.1" r="1.9"/><circle cx="709.9" cy="1468.1" r="1.9"/><circle cx="711.8" cy="1454.1" r="1.9"/><circle cx="715.4" cy="1447.4" r="1.9"/><circle cx="702.5" cy="1446.9" r="1.9"/><circle cx="696.0" cy="1451.1" r="1.9"/><circle cx="709.3" cy="1469.3" r="1.9"/><circle cx="715.9" cy="1433.9" r="1.9"/></g>
<rect x="795.8" y="1423.5" width="25.7" height="39.9" fill="#e6e6e6"/>
<line x1="808.6" y1="1416.4" x2="808.6" y2="1423.5" stroke="#6e6e6e" stroke-width="2.6"/>
<line x1="808.6" y1="1463.4" x2="808.6" y2="1473.9" stroke="#6e6e6e" stroke-width="2.6"/>
<line x1="802.1" y1="1416.4" x2="815.1" y2="1416.4" stroke="#6e6e6e" stroke-width="2.6"/>
<line x1="802.1" y1="1473.9" x2="815.1" y2="1473.9" stroke="#6e6e6e" stroke-width="2.6"/>
<line x1="795.8" y1="1446.6" x2="821.5" y2="1446.6" stroke="#000" stroke-width="2.8"/>
<g fill="#ef7a69" fill-opacity="0.9"><circle cx="811.4" cy="1416.9" r="1.9"/><circle cx="812.9" cy="1421.5" r="1.9"/><circle cx="802.3" cy="1422.5" r="1.9"/><circle cx="814.4" cy="1431.1" r="1.9"/><circle cx="799.8" cy="1419.7" r="1.9"/><circle cx="814.6" cy="1449.8" r="1.9"/><circle cx="817.7" cy="1453.6" r="1.9"/><circle cx="815.7" cy="1431.6" r="1.9"/><circle cx="814.9" cy="1424.3" r="1.9"/><circle cx="804.2" cy="1426.5" r="1.9"/><circle cx="806.9" cy="1438.3" r="1.9"/><circle cx="811.7" cy="1434.2" r="1.9"/><circle cx="818.1" cy="1473.7" r="1.9"/><circle cx="798.5" cy="1458.8" r="1.9"/><circle cx="807.4" cy="1417.9" r="1.9"/><circle cx="810.6" cy="1449.1" r="1.9"/><circle cx="808.1" cy="1416.5" r="1.9"/><circle cx="811.8" cy="1435.5" r="1.9"/><circle cx="802.3" cy="1453.4" r="1.9"/><circle cx="797.7" cy="1449.5" r="1.9"/><circle cx="812.6" cy="1450.7" r="1.9"/><circle cx="813.4" cy="1450.3" r="1.9"/><circle cx="802.9" cy="1450.5" r="1.9"/><circle cx="798.7" cy="1444.7" r="1.9"/><circle cx="814.6" cy="1428.6" r="1.9"/><circle cx="813.7" cy="1434.1" r="1.9"/><circle cx="813.2" cy="1466.6" r="1.9"/><circle cx="803.2" cy="1462.6" r="1.9"/><circle cx="797.9" cy="1436.7" r="1.9"/><circle cx="815.6" cy="1450.4" r="1.9"/><circle cx="813.6" cy="1467.9" r="1.9"/><circle cx="801.3" cy="1458.2" r="1.9"/><circle cx="798.9" cy="1467.4" r="1.9"/><circle cx="805.7" cy="1421.8" r="1.9"/><circle cx="812.5" cy="1419.7" r="1.9"/><circle cx="800.8" cy="1432.9" r="1.9"/><circle cx="811.8" cy="1454.4" r="1.9"/><circle cx="811.5" cy="1421.1" r="1.9"/><circle cx="814.9" cy="1422.5" r="1.9"/><circle cx="818.4" cy="1460.3" r="1.9"/><circle cx="804.0" cy="1454.4" r="1.9"/><circle cx="804.9" cy="1431.4" r="1.9"/><circle cx="804.4" cy="1465.2" r="1.9"/><circle cx="805.9" cy="1472.1" r="1.9"/><circle cx="817.3" cy="1431.4" r="1.9"/><circle cx="797.6" cy="1454.7" r="1.9"/><circle cx="803.4" cy="1425.2" r="1.9"/><circle cx="815.6" cy="1464.1" r="1.9"/><circle cx="815.9" cy="1452.9" r="1.9"/><circle cx="815.5" cy="1441.2" r="1.9"/><circle cx="803.6" cy="1471.2" r="1.9"/><circle cx="816.3" cy="1419.5" r="1.9"/><circle cx="817.7" cy="1461.6" r="1.9"/><circle cx="809.8" cy="1439.8" r="1.9"/><circle cx="815.1" cy="1456.3" r="1.9"/><circle cx="818.1" cy="1460.9" r="1.9"/><circle cx="812.5" cy="1450.4" r="1.9"/><circle cx="803.2" cy="1428.0" r="1.9"/><circle cx="814.1" cy="1450.7" r="1.9"/><circle cx="799.5" cy="1454.7" r="1.9"/><circle cx="815.3" cy="1416.5" r="1.9"/><circle cx="810.4" cy="1449.4" r="1.9"/><circle cx="817.3" cy="1426.4" r="1.9"/><circle cx="808.1" cy="1472.2" r="1.9"/><circle cx="810.6" cy="1424.1" r="1.9"/><circle cx="801.6" cy="1453.4" r="1.9"/><circle cx="813.0" cy="1463.6" r="1.9"/><circle cx="806.5" cy="1423.0" r="1.9"/><circle cx="798.6" cy="1430.7" r="1.9"/><circle cx="819.5" cy="1444.9" r="1.9"/><circle cx="811.5" cy="1437.3" r="1.9"/><circle cx="814.9" cy="1456.1" r="1.9"/><circle cx="805.2" cy="1467.7" r="1.9"/><circle cx="798.3" cy="1440.9" r="1.9"/><circle cx="819.4" cy="1445.9" r="1.9"/><circle cx="810.1" cy="1468.2" r="1.9"/><circle cx="803.4" cy="1422.4" r="1.9"/><circle cx="818.4" cy="1452.0" r="1.9"/><circle cx="814.5" cy="1417.5" r="1.9"/><circle cx="802.0" cy="1446.4" r="1.9"/><circle cx="801.6" cy="1454.4" r="1.9"/><circle cx="809.9" cy="1454.5" r="1.9"/><circle cx="816.8" cy="1451.2" r="1.9"/><circle cx="817.6" cy="1464.2" r="1.9"/><circle cx="806.3" cy="1461.5" r="1.9"/><circle cx="811.7" cy="1445.0" r="1.9"/><circle cx="806.2" cy="1435.3" r="1.9"/><circle cx="818.8" cy="1430.9" r="1.9"/><circle cx="819.4" cy="1451.9" r="1.9"/><circle cx="803.2" cy="1448.0" r="1.9"/><circle cx="805.3" cy="1454.4" r="1.9"/><circle cx="814.9" cy="1451.1" r="1.9"/><circle cx="813.2" cy="1439.2" r="1.9"/><circle cx="814.2" cy="1461.4" r="1.9"/><circle cx="818.3" cy="1452.0" r="1.9"/><circle cx="810.6" cy="1436.1" r="1.9"/><circle cx="814.3" cy="1425.4" r="1.9"/><circle cx="803.3" cy="1466.2" r="1.9"/><circle cx="800.3" cy="1461.9" r="1.9"/><circle cx="802.8" cy="1429.7" r="1.9"/><circle cx="800.7" cy="1448.6" r="1.9"/><circle cx="813.4" cy="1444.6" r="1.9"/><circle cx="801.9" cy="1442.6" r="1.9"/><circle cx="802.5" cy="1461.0" r="1.9"/><circle cx="817.2" cy="1423.9" r="1.9"/><circle cx="799.7" cy="1466.1" r="1.9"/><circle cx="818.0" cy="1470.1" r="1.9"/><circle cx="807.6" cy="1468.2" r="1.9"/><circle cx="808.1" cy="1418.7" r="1.9"/><circle cx="802.5" cy="1435.8" r="1.9"/><circle cx="798.8" cy="1435.4" r="1.9"/><circle cx="800.8" cy="1438.5" r="1.9"/><circle cx="806.7" cy="1461.8" r="1.9"/><circle cx="801.0" cy="1430.6" r="1.9"/><circle cx="805.0" cy="1439.5" r="1.9"/><circle cx="804.6" cy="1462.7" r="1.9"/><circle cx="819.1" cy="1457.9" r="1.9"/><circle cx="798.9" cy="1438.7" r="1.9"/><circle cx="802.2" cy="1421.0" r="1.9"/><circle cx="803.3" cy="1423.8" r="1.9"/><circle cx="802.0" cy="1449.9" r="1.9"/><circle cx="799.7" cy="1445.8" r="1.9"/><circle cx="798.9" cy="1431.9" r="1.9"/><circle cx="819.1" cy="1443.2" r="1.9"/><circle cx="798.0" cy="1423.4" r="1.9"/><circle cx="800.7" cy="1455.6" r="1.9"/><circle cx="797.6" cy="1422.6" r="1.9"/><circle cx="801.7" cy="1463.6" r="1.9"/><circle cx="807.2" cy="1416.7" r="1.9"/><circle cx="810.2" cy="1463.4" r="1.9"/><circle cx="800.6" cy="1436.2" r="1.9"/><circle cx="813.3" cy="1467.1" r="1.9"/><circle cx="799.5" cy="1450.3" r="1.9"/><circle cx="811.0" cy="1457.4" r="1.9"/><circle cx="802.1" cy="1424.1" r="1.9"/><circle cx="811.1" cy="1447.2" r="1.9"/><circle cx="810.4" cy="1433.1" r="1.9"/><circle cx="813.7" cy="1449.7" r="1.9"/><circle cx="806.6" cy="1456.5" r="1.9"/><circle cx="815.4" cy="1444.9" r="1.9"/><circle cx="805.0" cy="1437.3" r="1.9"/><circle cx="817.6" cy="1441.7" r="1.9"/><circle cx="808.1" cy="1446.8" r="1.9"/><circle cx="801.7" cy="1461.9" r="1.9"/><circle cx="815.9" cy="1430.7" r="1.9"/><circle cx="805.8" cy="1435.3" r="1.9"/><circle cx="810.7" cy="1459.0" r="1.9"/><circle cx="807.4" cy="1447.6" r="1.9"/><circle cx="813.3" cy="1432.4" r="1.9"/><circle cx="815.6" cy="1445.2" r="1.9"/><circle cx="813.2" cy="1463.0" r="1.9"/><circle cx="806.0" cy="1428.1" r="1.9"/><circle cx="816.8" cy="1446.7" r="1.9"/><circle cx="818.6" cy="1436.6" r="1.9"/><circle cx="809.3" cy="1447.7" r="1.9"/><circle cx="818.9" cy="1441.0" r="1.9"/><circle cx="802.5" cy="1445.3" r="1.9"/><circle cx="803.1" cy="1452.0" r="1.9"/><circle cx="815.6" cy="1458.5" r="1.9"/><circle cx="813.0" cy="1459.0" r="1.9"/><circle cx="801.9" cy="1449.0" r="1.9"/><circle cx="810.3" cy="1450.8" r="1.9"/><circle cx="799.9" cy="1440.3" r="1.9"/><circle cx="808.5" cy="1460.4" r="1.9"/><circle cx="808.6" cy="1450.6" r="1.9"/><circle cx="806.5" cy="1443.9" r="1.9"/><circle cx="800.6" cy="1460.7" r="1.9"/><circle cx="800.8" cy="1416.2" r="1.9"/><circle cx="801.2" cy="1426.0" r="1.9"/><circle cx="816.1" cy="1424.1" r="1.9"/><circle cx="809.2" cy="1465.5" r="1.9"/><circle cx="802.9" cy="1450.9" r="1.9"/><circle cx="805.0" cy="1421.4" r="1.9"/><circle cx="815.5" cy="1467.4" r="1.9"/><circle cx="809.0" cy="1452.0" r="1.9"/><circle cx="798.7" cy="1497.7" r="1.9"/><circle cx="817.4" cy="1497.7" r="1.9"/><circle cx="799.3" cy="1412.3" r="1.9"/><circle cx="816.2" cy="1408.2" r="1.9"/></g>
<path d="M923.6,1299.9 L923.6,1639.5 L1128.8,1639.5" fill="none" stroke="#111" stroke-width="2.2"/>
<rect x="961.2" y="1432.1" width="26.9" height="77.7" fill="#e6e6e6"/>
<line x1="974.4" y1="1343.4" x2="974.4" y2="1432.1" stroke="#6e6e6e" stroke-width="2.6"/>
<line x1="974.4" y1="1509.8" x2="974.4" y2="1577.4" stroke="#6e6e6e" stroke-width="2.6"/>
<line x1="967.4" y1="1343.4" x2="981.4" y2="1343.4" stroke="#6e6e6e" stroke-width="2.6"/>
<line x1="967.4" y1="1577.4" x2="981.4" y2="1577.4" stroke="#6e6e6e" stroke-width="2.6"/>
<line x1="961.2" y1="1469.0" x2="988.1" y2="1469.0" stroke="#000" stroke-width="2.8"/>
<g fill="#7cc3ee" fill-opacity="0.9"><circle cx="984.5" cy="1448.7" r="1.9"/><circle cx="972.7" cy="1520.9" r="1.9"/><circle cx="977.3" cy="1446.3" r="1.9"/><circle cx="964.9" cy="1408.4" r="1.9"/><circle cx="972.9" cy="1538.3" r="1.9"/><circle cx="966.5" cy="1453.7" r="1.9"/><circle cx="984.7" cy="1468.5" r="1.9"/><circle cx="977.3" cy="1498.2" r="1.9"/><circle cx="982.9" cy="1525.5" r="1.9"/><circle cx="969.2" cy="1492.0" r="1.9"/><circle cx="975.3" cy="1443.0" r="1.9"/><circle cx="983.7" cy="1415.1" r="1.9"/><circle cx="974.8" cy="1427.9" r="1.9"/><circle cx="972.9" cy="1429.8" r="1.9"/><circle cx="970.1" cy="1527.7" r="1.9"/><circle cx="977.6" cy="1450.3" r="1.9"/><circle cx="984.4" cy="1542.1" r="1.9"/><circle cx="974.7" cy="1538.0" r="1.9"/><circle cx="975.1" cy="1459.3" r="1.9"/><circle cx="966.7" cy="1552.3" r="1.9"/><circle cx="969.9" cy="1497.3" r="1.9"/><circle cx="972.3" cy="1496.9" r="1.9"/><circle cx="965.3" cy="1455.7" r="1.9"/><circle cx="975.4" cy="1523.3" r="1.9"/><circle cx="975.9" cy="1523.9" r="1.9"/><circle cx="977.7" cy="1382.2" r="1.9"/><circle cx="973.5" cy="1504.6" r="1.9"/><circle cx="973.7" cy="1370.6" r="1.9"/><circle cx="970.2" cy="1438.4" r="1.9"/><circle cx="974.7" cy="1471.6" r="1.9"/><circle cx="971.8" cy="1521.9" r="1.9"/><circle cx="971.2" cy="1459.1" r="1.9"/><circle cx="982.4" cy="1463.1" r="1.9"/><circle cx="974.2" cy="1475.9" r="1.9"/><circle cx="969.7" cy="1564.2" r="1.9"/><circle cx="980.4" cy="1531.4" r="1.9"/><circle cx="966.9" cy="1464.1" r="1.9"/><circle cx="973.1" cy="1530.7" r="1.9"/><circle cx="973.1" cy="1537.6" r="1.9"/><circle cx="979.6" cy="1497.2" r="1.9"/><circle cx="984.5" cy="1510.3" r="1.9"/><circle cx="979.7" cy="1502.9" r="1.9"/><circle cx="971.2" cy="1507.3" r="1.9"/><circle cx="978.3" cy="1525.0" r="1.9"/><circle cx="981.5" cy="1360.5" r="1.9"/><circle cx="974.8" cy="1371.7" r="1.9"/><circle cx="980.1" cy="1460.3" r="1.9"/><circle cx="979.0" cy="1489.3" r="1.9"/><circle cx="982.6" cy="1502.6" r="1.9"/><circle cx="963.5" cy="1449.1" r="1.9"/><circle cx="974.4" cy="1478.8" r="1.9"/><circle cx="984.6" cy="1370.1" r="1.9"/><circle cx="980.6" cy="1399.0" r="1.9"/><circle cx="982.6" cy="1435.0" r="1.9"/><circle cx="973.4" cy="1411.9" r="1.9"/><circle cx="973.5" cy="1423.4" r="1.9"/><circle cx="972.0" cy="1458.5" r="1.9"/><circle cx="975.6" cy="1407.6" r="1.9"/><circle cx="980.7" cy="1419.7" r="1.9"/><circle cx="982.1" cy="1512.8" r="1.9"/><circle cx="967.5" cy="1387.9" r="1.9"/><circle cx="970.1" cy="1469.2" r="1.9"/><circle cx="976.2" cy="1529.0" r="1.9"/><circle cx="965.3" cy="1546.4" r="1.9"/><circle cx="982.0" cy="1527.0" r="1.9"/><circle cx="981.8" cy="1437.2" r="1.9"/><circle cx="972.8" cy="1517.9" r="1.9"/><circle cx="983.4" cy="1456.0" r="1.9"/><circle cx="975.8" cy="1492.3" r="1.9"/><circle cx="974.3" cy="1470.6" r="1.9"/><circle cx="975.2" cy="1407.1" r="1.9"/><circle cx="974.8" cy="1559.3" r="1.9"/><circle cx="978.5" cy="1468.1" r="1.9"/><circle cx="976.5" cy="1414.9" r="1.9"/><circle cx="971.1" cy="1514.0" r="1.9"/><circle cx="975.0" cy="1432.9" r="1.9"/><circle cx="972.2" cy="1527.9" r="1.9"/><circle cx="975.7" cy="1511.2" r="1.9"/><circle cx="984.6" cy="1399.9" r="1.9"/><circle cx="977.1" cy="1388.7" r="1.9"/><circle cx="985.3" cy="1475.7" r="1.9"/><circle cx="981.3" cy="1418.1" r="1.9"/><circle cx="967.2" cy="1545.6" r="1.9"/><circle cx="981.6" cy="1383.0" r="1.9"/><circle cx="983.1" cy="1432.9" r="1.9"/><circle cx="978.6" cy="1466.1" r="1.9"/><circle cx="966.8" cy="1528.7" r="1.9"/><circle cx="969.8" cy="1418.4" r="1.9"/><circle cx="967.5" cy="1380.5" r="1.9"/><circle cx="967.4" cy="1462.5" r="1.9"/><circle cx="981.2" cy="1623.7" r="1.9"/></g>
<rect x="1063.3" y="1416.0" width="27.5" height="71.7" fill="#e6e6e6"/>
<line x1="1076.4" y1="1336.5" x2="1076.4" y2="1416.0" stroke="#6e6e6e" stroke-width="2.6"/>
<line x1="1076.4" y1="1487.7" x2="1076.4" y2="1579.0" stroke="#6e6e6e" stroke-width="2.6"/>
<line x1="1068.9" y1="1336.5" x2="1083.9" y2="1336.5" stroke="#6e6e6e" stroke-width="2.6"/>
<line x1="1068.9" y1="1579.0" x2="1083.9" y2="1579.0" stroke="#6e6e6e" stroke-width="2.6"/>
<line x1="1063.3" y1="1448.4" x2="1090.8" y2="1448.4" stroke="#000" stroke-width="2.8"/>
<g fill="#ef7a69" fill-opacity="0.9"><circle cx="1073.2" cy="1384.2" r="1.9"/><circle cx="1087.3" cy="1379.9" r="1.9"/><circle cx="1074.5" cy="1435.1" r="1.9"/><circle cx="1082.7" cy="1433.0" r="1.9"/><circle cx="1065.5" cy="1411.5" r="1.9"/><circle cx="1072.1" cy="1547.5" r="1.9"/><circle cx="1080.1" cy="1498.6" r="1.9"/><circle cx="1069.7" cy="1371.6" r="1.9"/><circle cx="1071.3" cy="1360.8" r="1.9"/><circle cx="1079.6" cy="1449.6" r="1.9"/><circle cx="1078.0" cy="1402.0" r="1.9"/><circle cx="1068.8" cy="1418.6" r="1.9"/><circle cx="1082.1" cy="1467.0" r="1.9"/><circle cx="1069.2" cy="1473.3" r="1.9"/><circle cx="1076.9" cy="1468.1" r="1.9"/><circle cx="1083.1" cy="1490.6" r="1.9"/><circle cx="1066.8" cy="1363.1" r="1.9"/><circle cx="1072.5" cy="1566.5" r="1.9"/><circle cx="1081.1" cy="1457.7" r="1.9"/><circle cx="1071.3" cy="1422.9" r="1.9"/><circle cx="1067.6" cy="1481.8" r="1.9"/><circle cx="1073.1" cy="1523.5" r="1.9"/><circle cx="1075.3" cy="1396.6" r="1.9"/><circle cx="1085.0" cy="1431.0" r="1.9"/><circle cx="1078.2" cy="1463.6" r="1.9"/><circle cx="1079.0" cy="1520.3" r="1.9"/><circle cx="1070.9" cy="1429.7" r="1.9"/><circle cx="1084.2" cy="1491.9" r="1.9"/><circle cx="1083.3" cy="1389.9" r="1.9"/><circle cx="1086.5" cy="1417.4" r="1.9"/><circle cx="1076.3" cy="1536.9" r="1.9"/><circle cx="1074.0" cy="1497.4" r="1.9"/><circle cx="1081.2" cy="1432.4" r="1.9"/><circle cx="1084.7" cy="1459.0" r="1.9"/><circle cx="1076.1" cy="1506.8" r="1.9"/><circle cx="1069.2" cy="1462.1" r="1.9"/><circle cx="1073.3" cy="1398.7" r="1.9"/><circle cx="1071.8" cy="1519.9" r="1.9"/><circle cx="1077.1" cy="1416.8" r="1.9"/><circle cx="1073.9" cy="1435.5" r="1.9"/><circle cx="1068.1" cy="1427.6" r="1.9"/><circle cx="1083.6" cy="1462.9" r="1.9"/><circle cx="1069.6" cy="1417.7" r="1.9"/><circle cx="1071.6" cy="1490.0" r="1.9"/><circle cx="1080.0" cy="1449.9" r="1.9"/><circle cx="1072.9" cy="1466.7" r="1.9"/><circle cx="1067.4" cy="1508.6" r="1.9"/><circle cx="1071.3" cy="1538.1" r="1.9"/><circle cx="1075.2" cy="1466.8" r="1.9"/><circle cx="1083.8" cy="1417.3" r="1.9"/><circle cx="1073.2" cy="1462.2" r="1.9"/><circle cx="1081.3" cy="1410.1" r="1.9"/><circle cx="1070.0" cy="1570.0" r="1.9"/><circle cx="1070.4" cy="1526.4" r="1.9"/><circle cx="1075.4" cy="1423.6" r="1.9"/><circle cx="1071.1" cy="1521.9" r="1.9"/><circle cx="1085.2" cy="1527.6" r="1.9"/><circle cx="1070.8" cy="1392.0" r="1.9"/><circle cx="1078.8" cy="1413.8" r="1.9"/><circle cx="1068.1" cy="1481.1" r="1.9"/><circle cx="1071.3" cy="1362.3" r="1.9"/><circle cx="1082.4" cy="1441.3" r="1.9"/><circle cx="1077.9" cy="1372.7" r="1.9"/><circle cx="1072.2" cy="1515.3" r="1.9"/><circle cx="1069.3" cy="1425.8" r="1.9"/><circle cx="1084.1" cy="1467.1" r="1.9"/><circle cx="1067.8" cy="1404.5" r="1.9"/><circle cx="1077.8" cy="1540.2" r="1.9"/><circle cx="1071.9" cy="1396.0" r="1.9"/><circle cx="1066.9" cy="1510.6" r="1.9"/><circle cx="1068.2" cy="1429.8" r="1.9"/><circle cx="1081.2" cy="1494.3" r="1.9"/><circle cx="1085.4" cy="1434.2" r="1.9"/><circle cx="1082.4" cy="1517.1" r="1.9"/><circle cx="1068.3" cy="1550.1" r="1.9"/><circle cx="1071.5" cy="1356.2" r="1.9"/><circle cx="1080.0" cy="1550.8" r="1.9"/><circle cx="1073.1" cy="1467.6" r="1.9"/><circle cx="1080.8" cy="1362.0" r="1.9"/><circle cx="1070.9" cy="1501.3" r="1.9"/><circle cx="1079.2" cy="1485.1" r="1.9"/><circle cx="1069.4" cy="1395.6" r="1.9"/><circle cx="1081.5" cy="1562.6" r="1.9"/><circle cx="1081.1" cy="1549.4" r="1.9"/><circle cx="1069.0" cy="1467.5" r="1.9"/><circle cx="1069.8" cy="1453.4" r="1.9"/><circle cx="1066.3" cy="1426.3" r="1.9"/><circle cx="1072.2" cy="1512.3" r="1.9"/><circle cx="1083.9" cy="1420.3" r="1.9"/><circle cx="1077.9" cy="1415.2" r="1.9"/><circle cx="1067.6" cy="1315.5" r="1.9"/><circle cx="1085.7" cy="1588.8" r="1.9"/></g>
<text transform="translate(38.94,1306.83) scale(1.0957,1)" font-size="21.79" font-weight="bold" fill="#111" stroke="#111" stroke-width="1.15" stroke-linejoin="round">1.5</text>
<text transform="translate(39.42,1475.12) scale(1.0915,1)" font-size="21.79" font-weight="bold" fill="#111" stroke="#111" stroke-width="1.15" stroke-linejoin="round">0.0</text>
<text transform="translate(24.71,1643.62) scale(1.1019,1)" font-size="21.79" font-weight="bold" fill="#111" stroke="#111" stroke-width="1.15" stroke-linejoin="round">−1.5</text>
<text transform="translate(304.44,1309.83) scale(1.0957,1)" font-size="21.79" font-weight="bold" fill="#111" stroke="#111" stroke-width="1.15" stroke-linejoin="round">1.5</text>
<text transform="translate(304.92,1478.22) scale(1.0915,1)" font-size="21.79" font-weight="bold" fill="#111" stroke="#111" stroke-width="1.15" stroke-linejoin="round">0.0</text>
<text transform="translate(290.21,1646.92) scale(1.1019,1)" font-size="21.79" font-weight="bold" fill="#111" stroke="#111" stroke-width="1.15" stroke-linejoin="round">−1.5</text>
<text transform="translate(603.04,1353.62) scale(1.0957,1)" font-size="21.79" font-weight="bold" fill="#111" stroke="#111" stroke-width="1.15" stroke-linejoin="round">1.5</text>
<text transform="translate(603.52,1458.12) scale(1.0915,1)" font-size="21.79" font-weight="bold" fill="#111" stroke="#111" stroke-width="1.15" stroke-linejoin="round">0.0</text>
<text transform="translate(588.81,1562.62) scale(1.1019,1)" font-size="21.79" font-weight="bold" fill="#111" stroke="#111" stroke-width="1.15" stroke-linejoin="round">−1.5</text>
<text transform="translate(870.64,1353.62) scale(1.0957,1)" font-size="21.79" font-weight="bold" fill="#111" stroke="#111" stroke-width="1.15" stroke-linejoin="round">1.5</text>
<text transform="translate(871.12,1458.12) scale(1.0915,1)" font-size="21.79" font-weight="bold" fill="#111" stroke="#111" stroke-width="1.15" stroke-linejoin="round">0.0</text>
<text transform="translate(856.41,1562.62) scale(1.1019,1)" font-size="21.79" font-weight="bold" fill="#111" stroke="#111" stroke-width="1.15" stroke-linejoin="round">−1.5</text>
<text transform="translate(117.24,1669.83) scale(1.0506,1)" font-size="19.93" font-weight="bold" fill="#111" stroke="#111" stroke-width="1.15" stroke-linejoin="round">CUD</text>
<text transform="translate(220.79,1669.83) scale(1.0315,1)" font-size="19.93" font-weight="bold" fill="#111" stroke="#111" stroke-width="1.15" stroke-linejoin="round">HC</text>
<text transform="translate(383.54,1672.62) scale(1.0820,1)" font-size="19.35" font-weight="bold" fill="#111" stroke="#111" stroke-width="1.15" stroke-linejoin="round">CUD</text>
<text transform="translate(487.69,1672.62) scale(1.0624,1)" font-size="19.35" font-weight="bold" fill="#111" stroke="#111" stroke-width="1.15" stroke-linejoin="round">HC</text>
<text transform="translate(683.94,1673.92) scale(1.0430,1)" font-size="20.07" font-weight="bold" fill="#111" stroke="#111" stroke-width="1.15" stroke-linejoin="round">CUD</text>
<text transform="translate(794.09,1673.92) scale(1.0241,1)" font-size="20.07" font-weight="bold" fill="#111" stroke="#111" stroke-width="1.15" stroke-linejoin="round">HC</text>
<text transform="translate(951.94,1673.92) scale(1.0430,1)" font-size="20.07" font-weight="bold" fill="#111" stroke="#111" stroke-width="1.15" stroke-linejoin="round">CUD</text>
<text transform="translate(1062.09,1673.92) scale(1.0241,1)" font-size="20.07" font-weight="bold" fill="#111" stroke="#111" stroke-width="1.15" stroke-linejoin="round">HC</text>
<text transform="translate(132.87,1221.02) scale(1.0305,1)" font-size="25.43" font-weight="bold" fill="#222" stroke="#222" stroke-width="1.15" stroke-linejoin="round">Discovery</text>
<text transform="translate(392.85,1220.83) scale(1.1121,1)" font-size="25.29" font-weight="bold" fill="#222" stroke="#222" stroke-width="1.15" stroke-linejoin="round">Independent</text>
<text transform="translate(685.58,1220.83) scale(1.0339,1)" font-size="25.29" font-weight="bold" fill="#222" stroke="#222" stroke-width="1.15" stroke-linejoin="round">Discovery</text>
<text transform="translate(945.45,1220.83) scale(1.1121,1)" font-size="25.29" font-weight="bold" fill="#222" stroke="#222" stroke-width="1.15" stroke-linejoin="round">Independent</text>
<text transform="translate(135.26,1265.90) scale(1.0000,1)" font-size="29.57" fill="#000">t</text>
<text transform="translate(148.72,1265.90) scale(1.0000,1)" font-size="29.57" fill="#000">=</text>
<text transform="translate(174.31,1265.90) scale(1.0063,1)" font-size="29.57" fill="#000">3.42</text>
<text transform="translate(134.88,1300.50) scale(1.0000,1)" font-size="29.57" fill="#000">p</text>
<text transform="translate(155.92,1300.50) scale(1.0000,1)" font-size="29.57" fill="#000">=</text>
<text transform="translate(181.51,1300.50) scale(1.0054,1)" font-size="29.57" fill="#000">0.0007</text>
<text transform="translate(400.26,1265.90) scale(1.0000,1)" font-size="29.57" fill="#000">t</text>
<text transform="translate(413.12,1265.90) scale(1.0000,1)" font-size="29.57" fill="#000">=</text>
<text transform="translate(438.49,1265.90) scale(0.9523,1)" font-size="29.57" fill="#000">2.81</text>
<text transform="translate(399.78,1300.50) scale(1.0000,1)" font-size="29.57" fill="#000">p</text>
<text transform="translate(420.92,1300.50) scale(1.0000,1)" font-size="29.57" fill="#000">=</text>
<text transform="translate(446.41,1300.50) scale(1.0033,1)" font-size="29.57" fill="#000">0.005</text>
<text transform="translate(703.36,1265.90) scale(1.0000,1)" font-size="29.57" fill="#000">t</text>
<text transform="translate(716.72,1265.90) scale(1.0000,1)" font-size="29.57" fill="#000">=</text>
<text transform="translate(741.68,1265.90) scale(0.9937,1)" font-size="29.57" fill="#000">-3.56</text>
<text transform="translate(702.88,1300.50) scale(1.0000,1)" font-size="29.57" fill="#000">p</text>
<text transform="translate(724.02,1300.50) scale(1.0000,1)" font-size="29.57" fill="#000">=</text>
<text transform="translate(749.53,1300.50) scale(0.9930,1)" font-size="29.57" fill="#000">0.0004</text>
<text transform="translate(975.96,1265.90) scale(1.0000,1)" font-size="29.57" fill="#000">t</text>
<text transform="translate(988.82,1265.90) scale(1.0000,1)" font-size="29.57" fill="#000">=</text>
<text transform="translate(1014.26,1265.90) scale(1.0037,1)" font-size="29.57" fill="#000">-2.09</text>
<text transform="translate(975.48,1300.50) scale(1.0000,1)" font-size="29.57" fill="#000">p</text>
<text transform="translate(996.52,1300.50) scale(1.0000,1)" font-size="29.57" fill="#000">=</text>
<text transform="translate(1022.13,1300.50) scale(0.9865,1)" font-size="29.57" fill="#000">0.04</text>
<text transform="translate(17.73,1657.34) rotate(-90) scale(1.0785,1)" font-size="21.67" font-weight="bold" fill="#000" stroke="#000" stroke-width="1.15" stroke-linejoin="round">LH LIM OFC 1-RH Cont PFCmp 2</text>
<text transform="translate(580.42,1633.84) rotate(-90) scale(1.0701,1)" font-size="21.81" font-weight="bold" fill="#000" stroke="#000" stroke-width="1.15" stroke-linejoin="round">LH DMN Temp 3-RH LIM OFC 1</text>
<rect x="1246.9" y="1334.7" width="194.2" height="209.0" fill="#eef4f9"/>
<rect x="1277.2" y="1334.7" width="163.9" height="148.5" fill="#d6e7f4"/>
<rect x="1291.1" y="1334.7" width="150.0" height="119.2" fill="#b6d5ec"/>
<rect x="1321.2" y="1334.7" width="119.9" height="89.1" fill="#72a9d0"/>
<rect x="1367.2" y="1334.7" width="73.9" height="59.0" fill="#4a7ea8"/>
<rect x="1199.8" y="1334.7" width="47.1" height="44.0" fill="#e48a8a"/>
<rect x="1246.9" y="1334.7" width="30.3" height="44.0" fill="#de8a8c"/>
<rect x="1277.2" y="1334.7" width="13.9" height="44.0" fill="#d6878d"/>
<rect x="1291.1" y="1334.7" width="30.1" height="44.0" fill="#cc8290"/>
<rect x="1321.2" y="1334.7" width="46.0" height="44.0" fill="#a86a7a"/>
<rect x="1367.2" y="1334.7" width="26.8" height="44.0" fill="#985868"/>
<text transform="translate(1212.07,1366.90) scale(0.9860,1)" font-size="24.86" fill="#6e1518">26</text>
<text transform="translate(1244.05,1366.90) scale(0.9374,1)" font-size="24.86" fill="#6e1518">161022</text>
<text transform="translate(1328.30,1366.90) scale(1.0468,1)" font-size="24.86" fill="#6e1518">24</text>
<text transform="translate(1366.24,1366.90) scale(0.9453,1)" font-size="24.86" fill="#6e1518">11</text>
<text transform="translate(1396.69,1381.70) scale(1.0485,1)" font-size="23.00" fill="#0f2a4d">100</text>
<text transform="translate(1396.69,1419.00) scale(1.0108,1)" font-size="23.86" fill="#0f2a4d">150</text>
<text transform="translate(1396.69,1448.80) scale(1.0293,1)" font-size="23.43" fill="#0f2a4d">150</text>
<text transform="translate(1396.69,1477.10) scale(1.0169,1)" font-size="23.71" fill="#0f2a4d">150</text>
<text transform="translate(1396.81,1514.70) scale(0.9525,1)" font-size="23.71" fill="#0f2a4d">181</text>
<text transform="translate(1204.24,1247.50) scale(1.0292,1)" font-size="28.70" fill="#1a3560">Discriminative</text>
<text transform="translate(1204.72,1282.20) scale(1.0927,1)" font-size="26.90" fill="#1a3560">atypical (551)</text>
<text transform="translate(1166.91,1593.10) scale(0.9921,1)" font-size="29.86" fill="#5e1519">Top 100 treatment</text>
<text transform="translate(1166.46,1626.20) scale(1.1206,1)" font-size="26.62" fill="#5e1519">predictive</text>
</svg></body></html>
